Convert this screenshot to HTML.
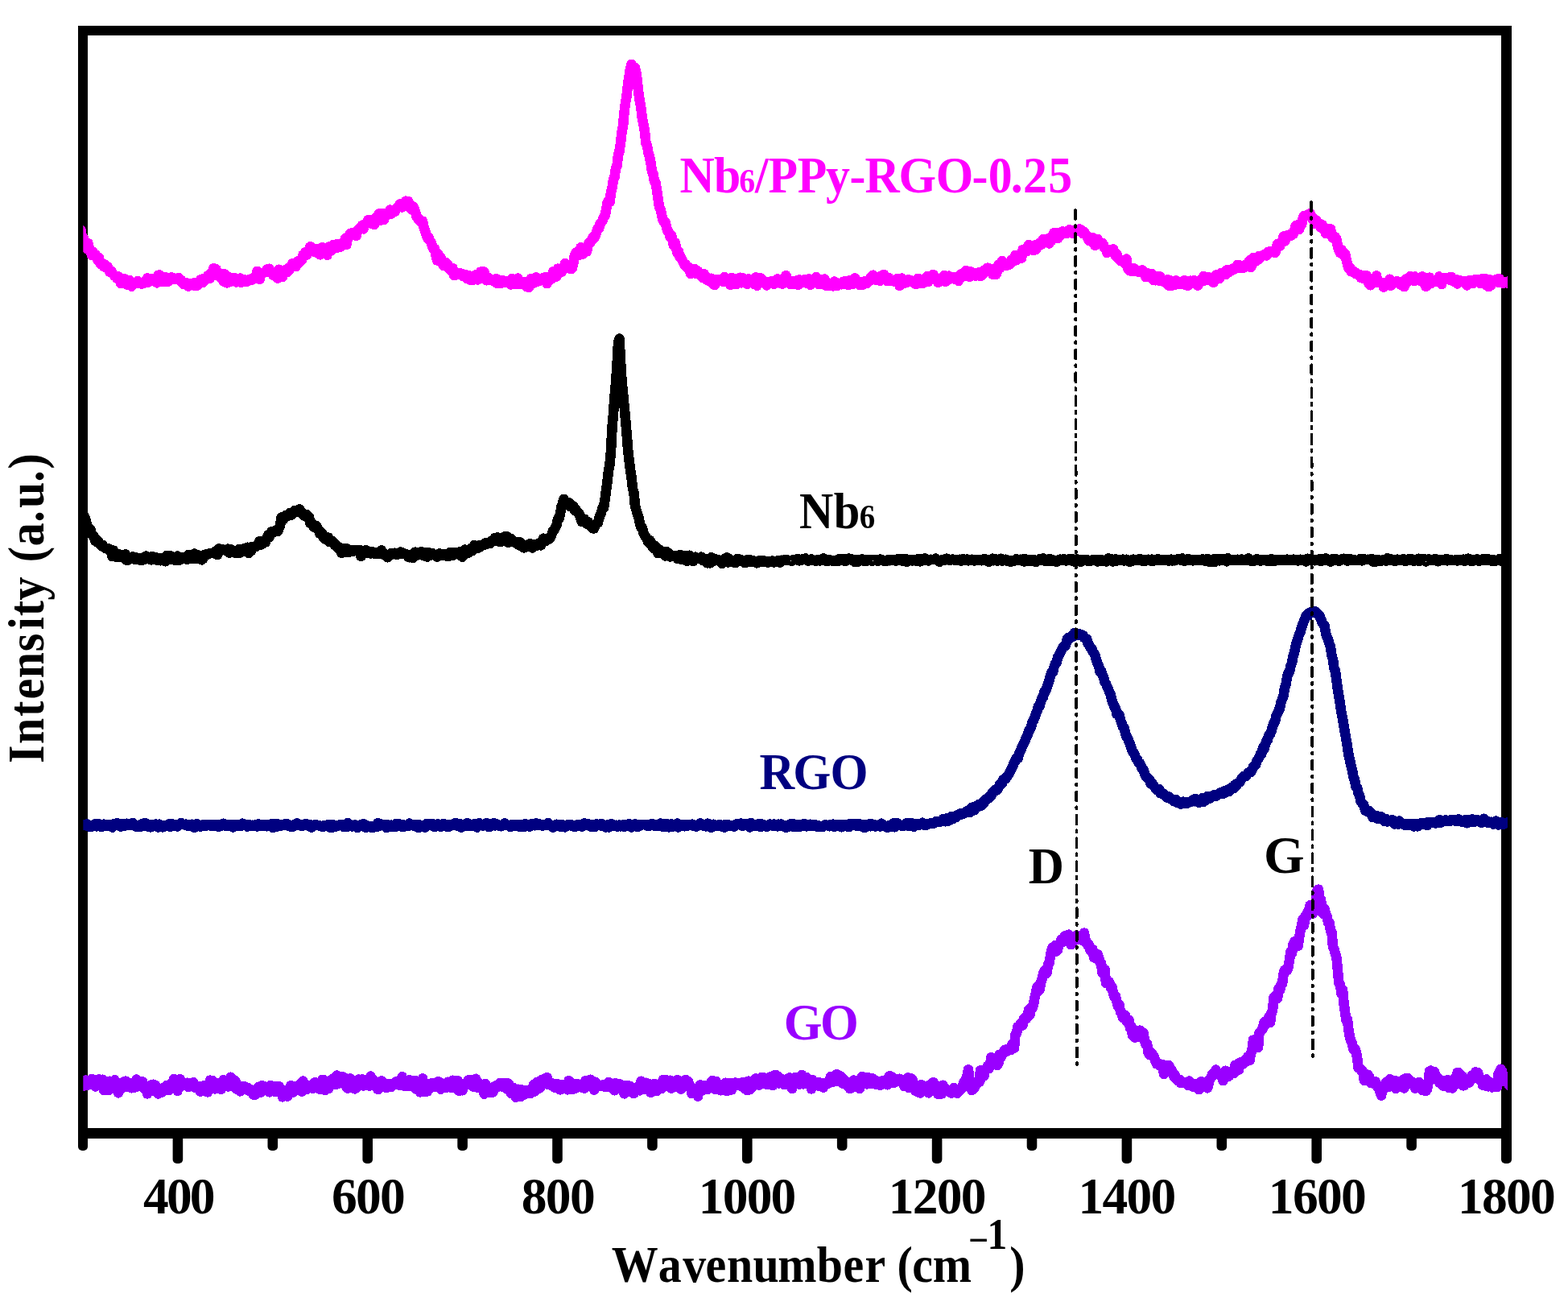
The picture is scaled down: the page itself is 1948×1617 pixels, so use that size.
<!DOCTYPE html>
<html lang="en">
<head>
<meta charset="utf-8">
<title>Raman spectra</title>
<style>
html,body{margin:0;padding:0;background:#fff;}
body{width:1948px;height:1617px;overflow:hidden;}
svg{display:block;}
text{font-family:"Liberation Serif", serif;font-weight:bold;}
</style>
</head>
<body>
<svg width="1948" height="1617" viewBox="0 0 1948 1617">
<rect width="1948" height="1617" fill="#ffffff"/>
<g fill="#000">
<rect x="97" y="32" width="1781" height="12"/>
<rect x="97" y="1401" width="1781" height="13"/>
<rect x="97" y="32" width="12" height="1382"/>
<rect x="1865" y="32" width="13" height="1382"/>
<rect x="97.0" y="1405" width="12.0" height="23.9" rx="5" ry="5"/>
<rect x="214.6" y="1405" width="12.6" height="39.9" rx="5" ry="5"/>
<rect x="332.5" y="1405" width="12.6" height="23.9" rx="5" ry="5"/>
<rect x="450.4" y="1405" width="12.6" height="39.9" rx="5" ry="5"/>
<rect x="568.3" y="1405" width="12.6" height="23.9" rx="5" ry="5"/>
<rect x="686.2" y="1405" width="12.6" height="39.9" rx="5" ry="5"/>
<rect x="804.1" y="1405" width="12.6" height="23.9" rx="5" ry="5"/>
<rect x="922.0" y="1405" width="12.6" height="39.9" rx="5" ry="5"/>
<rect x="1039.9" y="1405" width="12.6" height="23.9" rx="5" ry="5"/>
<rect x="1157.8" y="1405" width="12.6" height="39.9" rx="5" ry="5"/>
<rect x="1275.7" y="1405" width="12.6" height="23.9" rx="5" ry="5"/>
<rect x="1393.6" y="1405" width="12.6" height="39.9" rx="5" ry="5"/>
<rect x="1511.5" y="1405" width="12.6" height="23.9" rx="5" ry="5"/>
<rect x="1629.4" y="1405" width="12.6" height="39.9" rx="5" ry="5"/>
<rect x="1747.3" y="1405" width="12.6" height="23.9" rx="5" ry="5"/>
<rect x="1865.0" y="1405" width="13.0" height="39.9" rx="5" ry="5"/>
</g>
<svg x="103.3" y="0" width="1769.7" height="1617" viewBox="103.3 0 1769.7 1617" overflow="hidden">
<g fill="none" stroke-width="12.6" stroke-linejoin="round" stroke-linecap="butt" shape-rendering="crispEdges">
<path d="M93.0 1348.9L94.5 1350.3L96.0 1344.3L97.5 1350.4L99.0 1345.9L100.5 1341.2L102.0 1344.4L103.5 1348.9L105.0 1347.5L106.5 1341.6L108.0 1348.0L109.5 1345.0L111.0 1346.7L112.5 1346.0L114.0 1340.1L115.5 1345.5L117.0 1341.6L118.5 1349.5L120.0 1346.0L121.5 1343.9L123.0 1340.4L124.5 1344.8L126.0 1345.6L127.5 1340.8L129.0 1354.2L130.5 1347.8L132.0 1353.1L133.5 1342.9L135.0 1353.8L136.5 1342.8L138.0 1346.0L139.5 1350.9L141.0 1349.5L142.5 1341.4L144.0 1345.6L145.5 1352.8L147.0 1357.3L148.5 1352.6L150.0 1347.8L151.5 1351.6L153.0 1344.0L154.5 1350.0L156.0 1342.7L157.5 1347.5L159.0 1346.8L160.5 1350.1L162.0 1345.7L163.5 1351.2L165.0 1346.1L166.5 1350.3L168.0 1350.4L169.5 1340.6L171.0 1348.0L172.5 1348.3L174.0 1345.4L175.5 1349.3L177.0 1343.4L178.5 1351.3L180.0 1351.3L181.5 1350.8L183.0 1358.3L184.5 1351.4L186.0 1350.4L187.5 1347.5L189.0 1351.5L190.5 1346.8L192.0 1355.4L193.5 1348.2L195.0 1351.4L196.5 1358.4L198.0 1355.4L199.5 1352.0L201.0 1356.5L202.5 1351.1L204.0 1354.4L205.5 1351.6L207.0 1348.0L208.5 1352.6L210.0 1354.0L211.5 1348.7L213.0 1345.3L214.5 1347.0L216.0 1340.1L217.5 1345.7L219.0 1343.4L220.5 1354.7L222.0 1344.3L223.5 1340.1L225.0 1348.8L226.5 1344.3L228.0 1345.4L229.5 1346.3L231.0 1346.7L232.5 1344.8L234.0 1350.2L235.5 1348.8L237.0 1345.3L238.5 1346.8L240.0 1344.2L241.5 1349.2L243.0 1351.3L244.5 1351.3L246.0 1351.4L247.5 1348.9L249.0 1355.7L250.5 1349.1L252.0 1349.7L253.5 1348.1L255.0 1349.4L256.5 1347.9L258.0 1356.3L259.5 1350.0L261.0 1341.7L262.5 1346.2L264.0 1342.2L265.5 1350.7L267.0 1352.3L268.5 1345.1L270.0 1348.9L271.5 1345.7L273.0 1347.9L274.5 1352.8L276.0 1344.8L277.5 1341.3L279.0 1348.6L280.5 1347.7L282.0 1348.2L283.5 1349.4L285.0 1342.8L286.5 1337.8L288.0 1349.1L289.5 1343.4L291.0 1341.3L292.5 1342.7L294.0 1352.6L295.5 1350.3L297.0 1352.0L298.5 1355.3L300.0 1350.7L301.5 1349.2L303.0 1350.4L304.5 1349.7L306.0 1352.9L307.5 1350.8L309.0 1354.6L310.5 1352.8L312.0 1354.5L313.5 1357.3L315.0 1359.6L316.5 1359.6L318.0 1353.6L319.5 1353.4L321.0 1350.1L322.5 1355.3L324.0 1356.7L325.5 1348.1L327.0 1353.0L328.5 1349.4L330.0 1350.6L331.5 1352.5L333.0 1350.8L334.5 1356.3L336.0 1347.8L337.5 1351.4L339.0 1354.2L340.5 1350.9L342.0 1356.1L343.5 1348.9L345.0 1354.7L346.5 1348.9L348.0 1353.7L349.5 1356.1L351.0 1362.4L352.5 1358.0L354.0 1359.9L355.5 1353.9L357.0 1361.6L358.5 1352.5L360.0 1352.3L361.5 1348.1L363.0 1353.5L364.5 1356.4L366.0 1349.6L367.5 1350.3L369.0 1349.7L370.5 1349.9L372.0 1348.6L373.5 1345.4L375.0 1355.5L376.5 1342.5L378.0 1346.2L379.5 1350.8L381.0 1353.1L382.5 1348.3L384.0 1347.8L385.5 1348.8L387.0 1347.5L388.5 1351.6L390.0 1346.2L391.5 1344.1L393.0 1345.8L394.5 1347.7L396.0 1351.8L397.5 1353.0L399.0 1345.2L400.5 1340.9L402.0 1340.9L403.5 1353.9L405.0 1344.0L406.5 1346.9L408.0 1352.2L409.5 1342.0L411.0 1343.5L412.5 1341.7L414.0 1339.4L415.5 1346.3L417.0 1347.0L418.5 1335.5L420.0 1346.0L421.5 1341.1L423.0 1342.3L424.5 1342.6L426.0 1337.2L427.5 1341.3L429.0 1339.0L430.5 1350.4L432.0 1351.7L433.5 1344.0L435.0 1339.5L436.5 1348.7L438.0 1343.9L439.5 1351.5L441.0 1352.3L442.5 1351.1L444.0 1343.1L445.5 1340.6L447.0 1341.8L448.5 1343.8L450.0 1340.5L451.5 1348.4L453.0 1346.2L454.5 1343.5L456.0 1342.0L457.5 1345.8L459.0 1348.7L460.5 1336.5L462.0 1345.1L463.5 1343.4L465.0 1342.0L466.5 1343.9L468.0 1346.1L469.5 1353.0L471.0 1346.5L472.5 1345.0L474.0 1342.3L475.5 1350.2L477.0 1344.8L478.5 1347.5L480.0 1350.9L481.5 1348.0L483.0 1345.9L484.5 1346.2L486.0 1349.8L487.5 1345.9L489.0 1346.4L490.5 1346.7L492.0 1343.3L493.5 1345.4L495.0 1342.7L496.5 1347.6L498.0 1345.5L499.5 1337.3L501.0 1343.3L502.5 1348.6L504.0 1343.9L505.5 1343.4L507.0 1349.0L508.5 1341.4L510.0 1346.1L511.5 1348.3L513.0 1349.6L514.5 1342.7L516.0 1342.2L517.5 1352.9L519.0 1344.5L520.5 1347.4L522.0 1356.4L523.5 1346.4L525.0 1339.6L526.5 1356.1L528.0 1351.3L529.5 1348.6L531.0 1355.3L532.5 1346.4L534.0 1352.0L535.5 1346.3L537.0 1344.9L538.5 1348.1L540.0 1348.8L541.5 1350.1L543.0 1349.5L544.5 1343.2L546.0 1344.8L547.5 1352.6L549.0 1347.7L550.5 1345.8L552.0 1350.7L553.5 1351.0L555.0 1350.7L556.5 1343.8L558.0 1344.5L559.5 1349.0L561.0 1350.8L562.5 1341.8L564.0 1344.7L565.5 1345.7L567.0 1350.4L568.5 1342.3L570.0 1354.7L571.5 1346.5L573.0 1348.4L574.5 1354.3L576.0 1348.2L577.5 1348.6L579.0 1344.9L580.5 1347.2L582.0 1341.3L583.5 1344.9L585.0 1345.2L586.5 1341.2L588.0 1349.5L589.5 1348.0L591.0 1339.8L592.5 1350.5L594.0 1344.6L595.5 1351.0L597.0 1346.3L598.5 1348.7L600.0 1352.2L601.5 1358.6L603.0 1346.1L604.5 1351.2L606.0 1351.8L607.5 1357.1L609.0 1351.5L610.5 1353.5L612.0 1356.5L613.5 1353.9L615.0 1348.9L616.5 1348.3L618.0 1348.4L619.5 1349.5L621.0 1345.2L622.5 1347.7L624.0 1349.6L625.5 1345.2L627.0 1345.3L628.5 1349.3L630.0 1352.4L631.5 1345.4L633.0 1347.9L634.5 1357.6L636.0 1353.8L637.5 1350.8L639.0 1356.5L640.5 1362.6L642.0 1354.1L643.5 1352.7L645.0 1355.2L646.5 1362.1L648.0 1353.4L649.5 1357.8L651.0 1359.5L652.5 1357.9L654.0 1354.1L655.5 1357.8L657.0 1355.8L658.5 1358.1L660.0 1356.3L661.5 1354.7L663.0 1347.0L664.5 1355.3L666.0 1351.8L667.5 1343.7L669.0 1350.8L670.5 1351.4L672.0 1349.2L673.5 1340.7L675.0 1345.6L676.5 1344.1L678.0 1345.9L679.5 1338.1L681.0 1346.9L682.5 1347.2L684.0 1347.4L685.5 1345.5L687.0 1345.8L688.5 1350.4L690.0 1348.8L691.5 1345.9L693.0 1349.1L694.5 1351.0L696.0 1353.4L697.5 1351.1L699.0 1346.8L700.5 1348.0L702.0 1350.6L703.5 1350.7L705.0 1353.3L706.5 1342.2L708.0 1346.4L709.5 1344.6L711.0 1352.9L712.5 1351.6L714.0 1349.8L715.5 1351.5L717.0 1346.1L718.5 1350.1L720.0 1348.3L721.5 1348.3L723.0 1347.3L724.5 1351.3L726.0 1351.5L727.5 1342.0L729.0 1345.3L730.5 1347.5L732.0 1349.2L733.5 1340.8L735.0 1343.3L736.5 1345.5L738.0 1353.5L739.5 1343.8L741.0 1345.8L742.5 1347.3L744.0 1347.3L745.5 1348.4L747.0 1347.9L748.5 1347.5L750.0 1349.4L751.5 1349.3L753.0 1349.7L754.5 1349.8L756.0 1343.9L757.5 1349.0L759.0 1348.9L760.5 1351.3L762.0 1350.9L763.5 1354.2L765.0 1345.3L766.5 1347.8L768.0 1349.1L769.5 1346.1L771.0 1347.8L772.5 1347.8L774.0 1347.8L775.5 1358.3L777.0 1350.0L778.5 1356.3L780.0 1347.9L781.5 1352.5L783.0 1349.1L784.5 1352.5L786.0 1357.2L787.5 1358.0L789.0 1353.4L790.5 1351.8L792.0 1349.8L793.5 1350.9L795.0 1354.3L796.5 1342.8L798.0 1347.4L799.5 1344.9L801.0 1352.8L802.5 1344.8L804.0 1353.0L805.5 1346.0L807.0 1346.8L808.5 1356.9L810.0 1355.5L811.5 1348.8L813.0 1346.1L814.5 1349.5L816.0 1355.2L817.5 1351.4L819.0 1346.5L820.5 1350.5L822.0 1352.2L823.5 1341.3L825.0 1343.7L826.5 1340.9L828.0 1349.1L829.5 1346.4L831.0 1344.5L832.5 1341.8L834.0 1351.6L835.5 1348.9L837.0 1350.0L838.5 1348.2L840.0 1349.8L841.5 1341.2L843.0 1344.0L844.5 1347.7L846.0 1352.7L847.5 1346.5L849.0 1344.4L850.5 1341.7L852.0 1341.0L853.5 1343.8L855.0 1343.1L856.5 1348.1L858.0 1349.1L859.5 1358.1L861.0 1351.7L862.5 1357.8L864.0 1353.4L865.5 1357.7L867.0 1361.6L868.5 1350.3L870.0 1347.3L871.5 1354.8L873.0 1350.1L874.5 1348.1L876.0 1350.1L877.5 1349.5L879.0 1353.1L880.5 1350.0L882.0 1346.3L883.5 1344.3L885.0 1342.0L886.5 1344.4L888.0 1352.6L889.5 1343.0L891.0 1348.6L892.5 1353.1L894.0 1350.7L895.5 1354.2L897.0 1351.1L898.5 1354.1L900.0 1345.9L901.5 1344.8L903.0 1355.2L904.5 1349.0L906.0 1347.9L907.5 1345.3L909.0 1353.3L910.5 1349.0L912.0 1348.9L913.5 1344.5L915.0 1347.1L916.5 1345.3L918.0 1346.7L919.5 1348.5L921.0 1345.5L922.5 1344.4L924.0 1350.8L925.5 1344.2L927.0 1353.4L928.5 1354.1L930.0 1342.6L931.5 1353.2L933.0 1343.3L934.5 1350.6L936.0 1342.7L937.5 1347.0L939.0 1339.4L940.5 1345.0L942.0 1342.2L943.5 1347.6L945.0 1344.4L946.5 1338.0L948.0 1342.5L949.5 1338.6L951.0 1341.7L952.5 1346.7L954.0 1346.7L955.5 1341.3L957.0 1337.5L958.5 1340.7L960.0 1348.1L961.5 1339.7L963.0 1334.8L964.5 1335.5L966.0 1336.6L967.5 1345.5L969.0 1340.5L970.5 1339.4L972.0 1343.9L973.5 1346.6L975.0 1342.7L976.5 1340.6L978.0 1344.8L979.5 1347.5L981.0 1338.5L982.5 1339.7L984.0 1352.1L985.5 1345.7L987.0 1345.0L988.5 1337.9L990.0 1339.0L991.5 1341.3L993.0 1346.6L994.5 1341.7L996.0 1334.8L997.5 1346.3L999.0 1346.1L1000.5 1344.3L1002.0 1337.8L1003.5 1340.4L1005.0 1342.7L1006.5 1345.1L1008.0 1352.3L1009.5 1341.3L1011.0 1344.6L1012.5 1348.2L1014.0 1347.0L1015.5 1348.1L1017.0 1343.8L1018.5 1349.0L1020.0 1347.0L1021.5 1348.3L1023.0 1350.5L1024.5 1345.4L1026.0 1345.3L1027.5 1346.2L1029.0 1342.9L1030.5 1344.7L1032.0 1336.8L1033.5 1339.3L1035.0 1343.6L1036.5 1341.6L1038.0 1343.1L1039.5 1334.1L1041.0 1336.3L1042.5 1337.1L1044.0 1336.4L1045.5 1337.8L1047.0 1345.7L1048.5 1340.5L1050.0 1342.8L1051.5 1347.7L1053.0 1348.3L1054.5 1346.7L1056.0 1352.2L1057.5 1347.9L1059.0 1344.6L1060.5 1341.6L1062.0 1349.6L1063.5 1342.4L1065.0 1345.9L1066.5 1342.2L1068.0 1351.9L1069.5 1346.5L1071.0 1336.9L1072.5 1344.4L1074.0 1338.1L1075.5 1341.2L1077.0 1346.3L1078.5 1338.4L1080.0 1344.5L1081.5 1343.0L1083.0 1346.1L1084.5 1339.6L1086.0 1345.6L1087.5 1341.9L1089.0 1347.1L1090.5 1343.4L1092.0 1345.7L1093.5 1348.0L1095.0 1346.8L1096.5 1342.2L1098.0 1344.7L1099.5 1341.7L1101.0 1343.0L1102.5 1347.2L1104.0 1337.6L1105.5 1336.1L1107.0 1342.0L1108.5 1337.8L1110.0 1344.9L1111.5 1344.1L1113.0 1343.8L1114.5 1341.9L1116.0 1340.8L1117.5 1339.8L1119.0 1341.6L1120.5 1344.1L1122.0 1341.2L1123.5 1349.1L1125.0 1348.1L1126.5 1341.2L1128.0 1338.3L1129.5 1351.2L1131.0 1342.9L1132.5 1339.7L1134.0 1342.2L1135.5 1349.6L1137.0 1354.4L1138.5 1353.3L1140.0 1355.6L1141.5 1356.9L1143.0 1357.4L1144.5 1347.0L1146.0 1350.0L1147.5 1348.6L1149.0 1351.3L1150.5 1349.8L1152.0 1351.7L1153.5 1357.3L1155.0 1347.3L1156.5 1352.4L1158.0 1345.6L1159.5 1344.0L1161.0 1353.4L1162.5 1350.3L1164.0 1352.4L1165.5 1358.8L1167.0 1349.6L1168.5 1354.5L1170.0 1358.4L1171.5 1347.8L1173.0 1351.4L1174.5 1352.7L1176.0 1353.1L1177.5 1353.4L1179.0 1355.8L1180.5 1355.2L1182.0 1357.6L1183.5 1356.2L1185.0 1351.0L1186.5 1354.4L1188.0 1353.2L1189.5 1357.6L1191.0 1354.8L1192.5 1354.5L1194.0 1351.2L1195.5 1351.0L1197.0 1344.5L1198.5 1345.6L1200.0 1340.0L1201.5 1336.2L1203.0 1328.4L1204.5 1343.9L1206.0 1348.8L1207.5 1354.0L1209.0 1352.4L1210.5 1351.3L1212.0 1344.6L1213.5 1346.5L1215.0 1343.4L1216.5 1344.0L1218.0 1329.3L1219.5 1338.6L1221.0 1334.9L1222.5 1336.3L1224.0 1328.9L1225.5 1326.8L1227.0 1323.8L1228.5 1327.3L1230.0 1323.2L1231.5 1313.1L1233.0 1314.4L1234.5 1316.1L1236.0 1314.1L1237.5 1319.6L1239.0 1323.0L1240.5 1320.6L1242.0 1309.6L1243.5 1313.0L1245.0 1308.1L1246.5 1308.0L1248.0 1304.1L1249.5 1306.5L1251.0 1302.9L1252.5 1304.6L1254.0 1303.9L1255.5 1304.0L1257.0 1298.0L1258.5 1295.7L1260.0 1301.7L1261.5 1284.6L1263.0 1283.4L1264.5 1275.0L1266.0 1275.8L1267.5 1271.8L1269.0 1269.8L1270.5 1273.4L1272.0 1265.4L1273.5 1264.0L1275.0 1265.3L1276.5 1263.4L1278.0 1254.4L1279.5 1260.5L1281.0 1251.5L1282.5 1252.2L1284.0 1247.5L1285.5 1239.3L1287.0 1233.4L1288.5 1225.4L1290.0 1230.8L1291.5 1229.2L1293.0 1220.4L1294.5 1216.4L1296.0 1209.6L1297.5 1206.2L1299.0 1206.6L1300.5 1208.6L1302.0 1198.1L1303.5 1195.7L1305.0 1187.2L1306.5 1179.6L1308.0 1176.4L1309.5 1177.7L1311.0 1174.2L1312.5 1181.5L1314.0 1179.7L1315.5 1173.1L1317.0 1171.8L1318.5 1167.0L1320.0 1170.1L1321.5 1169.4L1323.0 1162.4L1324.5 1164.5L1326.0 1167.9L1327.5 1160.7L1329.0 1168.2L1330.5 1173.0L1332.0 1171.8L1333.5 1163.8L1335.0 1162.8L1336.5 1164.4L1338.0 1163.2L1339.5 1166.4L1341.0 1162.1L1342.5 1162.7L1344.0 1162.9L1345.5 1168.2L1347.0 1158.7L1348.5 1169.7L1350.0 1169.8L1351.5 1173.9L1353.0 1173.6L1354.5 1180.3L1356.0 1180.9L1357.5 1179.1L1359.0 1189.3L1360.5 1183.9L1362.0 1189.6L1363.5 1185.1L1365.0 1189.1L1366.5 1195.0L1368.0 1196.0L1369.5 1208.5L1371.0 1209.2L1372.5 1204.1L1374.0 1221.2L1375.5 1217.8L1377.0 1218.8L1378.5 1220.4L1380.0 1226.9L1381.5 1225.5L1383.0 1233.5L1384.5 1237.8L1386.0 1237.1L1387.5 1244.4L1389.0 1250.0L1390.5 1248.1L1392.0 1257.0L1393.5 1257.4L1395.0 1264.2L1396.5 1262.2L1398.0 1260.9L1399.5 1268.4L1401.0 1269.7L1402.5 1266.6L1404.0 1276.6L1405.5 1274.6L1407.0 1286.0L1408.5 1284.5L1410.0 1288.5L1411.5 1286.6L1413.0 1284.5L1414.5 1287.8L1416.0 1279.6L1417.5 1288.2L1419.0 1287.3L1420.5 1282.9L1422.0 1292.1L1423.5 1297.5L1425.0 1296.0L1426.5 1306.6L1428.0 1310.0L1429.5 1306.7L1431.0 1308.4L1432.5 1311.9L1434.0 1312.5L1435.5 1318.4L1437.0 1321.3L1438.5 1321.2L1440.0 1322.8L1441.5 1321.6L1443.0 1322.8L1444.5 1322.2L1446.0 1333.9L1447.5 1329.9L1449.0 1329.5L1450.5 1325.6L1452.0 1323.1L1453.5 1326.7L1455.0 1328.6L1456.5 1330.8L1458.0 1336.4L1459.5 1334.4L1461.0 1340.1L1462.5 1340.7L1464.0 1342.6L1465.5 1340.7L1467.0 1345.2L1468.5 1343.9L1470.0 1345.2L1471.5 1344.6L1473.0 1344.8L1474.5 1346.1L1476.0 1347.8L1477.5 1342.6L1479.0 1344.1L1480.5 1345.4L1482.0 1349.7L1483.5 1345.9L1485.0 1348.6L1486.5 1350.1L1488.0 1347.1L1489.5 1353.2L1491.0 1344.1L1492.5 1343.1L1494.0 1344.2L1495.5 1345.8L1497.0 1347.0L1498.5 1348.6L1500.0 1351.3L1501.5 1346.4L1503.0 1340.2L1504.5 1338.4L1506.0 1334.2L1507.5 1335.2L1509.0 1332.4L1510.5 1328.7L1512.0 1332.9L1513.5 1332.2L1515.0 1335.0L1516.5 1334.6L1518.0 1332.6L1519.5 1342.2L1521.0 1333.0L1522.5 1329.8L1524.0 1333.6L1525.5 1333.3L1527.0 1336.4L1528.5 1331.6L1530.0 1333.0L1531.5 1332.9L1533.0 1333.1L1534.5 1322.9L1536.0 1328.4L1537.5 1321.4L1539.0 1328.6L1540.5 1320.1L1542.0 1318.9L1543.5 1321.9L1545.0 1318.4L1546.5 1316.8L1548.0 1318.8L1549.5 1313.3L1551.0 1311.9L1552.5 1317.0L1554.0 1308.1L1555.5 1303.8L1557.0 1291.6L1558.5 1294.4L1560.0 1292.7L1561.5 1294.7L1563.0 1301.0L1564.5 1282.3L1566.0 1281.3L1567.5 1279.3L1569.0 1277.3L1570.5 1269.4L1572.0 1272.6L1573.5 1267.7L1575.0 1269.1L1576.5 1262.5L1578.0 1269.9L1579.5 1257.8L1581.0 1255.2L1582.5 1238.9L1584.0 1238.9L1585.5 1236.1L1587.0 1239.8L1588.5 1227.9L1590.0 1230.0L1591.5 1222.8L1593.0 1221.9L1594.5 1209.9L1596.0 1204.7L1597.5 1203.8L1599.0 1205.4L1600.5 1200.9L1602.0 1192.5L1603.5 1181.8L1605.0 1183.9L1606.5 1173.2L1608.0 1169.5L1609.5 1170.0L1611.0 1169.0L1612.5 1174.9L1614.0 1165.1L1615.5 1156.2L1617.0 1149.5L1618.5 1141.6L1620.0 1149.2L1621.5 1137.9L1623.0 1138.9L1624.5 1132.5L1626.0 1131.4L1627.5 1124.3L1629.0 1130.4L1630.5 1135.1L1632.0 1130.2L1633.5 1121.6L1635.0 1119.8L1636.5 1106.1L1638.0 1104.6L1639.5 1118.5L1641.0 1117.1L1642.5 1133.1L1644.0 1135.1L1645.5 1128.8L1647.0 1135.0L1648.5 1138.2L1650.0 1145.7L1651.5 1146.2L1653.0 1155.6L1654.5 1157.9L1656.0 1176.1L1657.5 1179.3L1659.0 1184.3L1660.5 1189.9L1662.0 1205.9L1663.5 1221.7L1665.0 1222.9L1666.5 1234.0L1668.0 1229.2L1669.5 1245.8L1671.0 1256.6L1672.5 1267.6L1674.0 1265.8L1675.5 1279.7L1677.0 1288.6L1678.5 1292.8L1680.0 1296.3L1681.5 1303.2L1683.0 1302.1L1684.5 1306.0L1686.0 1312.6L1687.5 1325.9L1689.0 1326.1L1690.5 1328.7L1692.0 1329.1L1693.5 1332.8L1695.0 1342.2L1696.5 1335.4L1698.0 1334.6L1699.5 1334.9L1701.0 1337.4L1702.5 1344.6L1704.0 1343.2L1705.5 1344.0L1707.0 1346.2L1708.5 1343.0L1710.0 1346.6L1711.5 1350.3L1713.0 1352.0L1714.5 1356.4L1716.0 1360.6L1717.5 1352.0L1719.0 1353.0L1720.5 1350.5L1722.0 1344.1L1723.5 1348.2L1725.0 1350.0L1726.5 1340.4L1728.0 1348.3L1729.5 1348.5L1731.0 1348.4L1732.5 1341.9L1734.0 1352.0L1735.5 1348.2L1737.0 1346.1L1738.5 1343.7L1740.0 1350.2L1741.5 1346.8L1743.0 1341.1L1744.5 1351.4L1746.0 1339.4L1747.5 1345.5L1749.0 1338.8L1750.5 1342.2L1752.0 1346.1L1753.5 1343.2L1755.0 1346.8L1756.5 1345.4L1758.0 1351.6L1759.5 1349.0L1761.0 1348.4L1762.5 1344.0L1764.0 1345.3L1765.5 1347.9L1767.0 1353.8L1768.5 1353.2L1770.0 1349.7L1771.5 1355.0L1773.0 1352.7L1774.5 1344.5L1776.0 1330.4L1777.5 1329.5L1779.0 1333.1L1780.5 1339.9L1782.0 1331.1L1783.5 1337.1L1785.0 1339.1L1786.5 1338.9L1788.0 1344.6L1789.5 1341.0L1791.0 1343.3L1792.5 1348.2L1794.0 1348.7L1795.5 1342.7L1797.0 1343.4L1798.5 1341.0L1800.0 1350.9L1801.5 1347.9L1803.0 1348.8L1804.5 1351.5L1806.0 1347.5L1807.5 1339.2L1809.0 1346.1L1810.5 1332.2L1812.0 1332.3L1813.5 1343.6L1815.0 1340.3L1816.5 1336.4L1818.0 1348.4L1819.5 1347.8L1821.0 1342.9L1822.5 1342.6L1824.0 1342.9L1825.5 1344.5L1827.0 1340.1L1828.5 1335.7L1830.0 1338.8L1831.5 1336.4L1833.0 1331.4L1834.5 1335.0L1836.0 1332.1L1837.5 1337.2L1839.0 1342.1L1840.5 1340.2L1842.0 1347.6L1843.5 1341.6L1845.0 1342.4L1846.5 1340.4L1848.0 1349.2L1849.5 1349.3L1851.0 1343.7L1852.5 1346.4L1854.0 1350.4L1855.5 1345.2L1857.0 1347.5L1858.5 1345.7L1860.0 1349.8L1861.5 1333.3L1863.0 1335.3L1864.5 1327.8L1866.0 1330.5L1867.5 1343.2L1869.0 1341.1L1870.5 1341.7L1872.0 1339.8L1873.5 1340.1L1875.0 1347.8L1876.5 1336.0L1878.0 1344.9L1879.5 1344.2L1881.0 1336.5L1882.5 1340.9L1884.0 1337.3" stroke="#9900ff"/>
<path d="M93.0 1027.3L94.5 1025.6L96.0 1025.1L97.5 1022.6L99.0 1024.6L100.5 1024.5L102.0 1024.9L103.5 1024.2L105.0 1024.9L106.5 1024.4L108.0 1023.3L109.5 1026.2L111.0 1026.1L112.5 1027.2L114.0 1025.1L115.5 1024.5L117.0 1024.3L118.5 1023.0L120.0 1026.3L121.5 1023.6L123.0 1023.5L124.5 1024.7L126.0 1026.9L127.5 1025.3L129.0 1023.7L130.5 1024.1L132.0 1025.8L133.5 1024.8L135.0 1024.0L136.5 1024.7L138.0 1026.0L139.5 1027.6L141.0 1023.4L142.5 1024.2L144.0 1024.0L145.5 1022.1L147.0 1023.8L148.5 1023.7L150.0 1026.5L151.5 1024.8L153.0 1022.9L154.5 1025.8L156.0 1024.5L157.5 1022.7L159.0 1024.2L160.5 1024.2L162.0 1023.9L163.5 1025.0L165.0 1022.1L166.5 1024.7L168.0 1026.3L169.5 1026.1L171.0 1026.4L172.5 1026.5L174.0 1026.9L175.5 1023.5L177.0 1026.1L178.5 1022.6L180.0 1024.2L181.5 1022.5L183.0 1026.4L184.5 1026.7L186.0 1024.7L187.5 1027.3L189.0 1024.1L190.5 1025.2L192.0 1025.2L193.5 1023.6L195.0 1025.6L196.5 1027.5L198.0 1023.7L199.5 1026.2L201.0 1024.8L202.5 1027.3L204.0 1025.6L205.5 1025.9L207.0 1025.8L208.5 1025.3L210.0 1023.2L211.5 1026.8L213.0 1023.2L214.5 1025.3L216.0 1025.8L217.5 1023.9L219.0 1025.2L220.5 1026.5L222.0 1025.0L223.5 1023.8L225.0 1022.1L226.5 1023.7L228.0 1024.2L229.5 1024.3L231.0 1023.8L232.5 1025.5L234.0 1024.3L235.5 1024.9L237.0 1025.9L238.5 1023.9L240.0 1024.6L241.5 1027.8L243.0 1026.1L244.5 1023.3L246.0 1024.9L247.5 1025.7L249.0 1026.6L250.5 1025.2L252.0 1024.3L253.5 1024.1L255.0 1025.8L256.5 1025.4L258.0 1024.3L259.5 1024.8L261.0 1024.5L262.5 1025.9L264.0 1024.1L265.5 1025.6L267.0 1026.1L268.5 1025.6L270.0 1023.9L271.5 1026.7L273.0 1024.1L274.5 1025.6L276.0 1024.0L277.5 1022.7L279.0 1025.3L280.5 1025.4L282.0 1024.9L283.5 1025.4L285.0 1024.2L286.5 1024.0L288.0 1024.8L289.5 1027.5L291.0 1026.1L292.5 1024.3L294.0 1025.7L295.5 1024.4L297.0 1024.4L298.5 1026.1L300.0 1024.3L301.5 1022.8L303.0 1023.8L304.5 1025.1L306.0 1025.2L307.5 1026.6L309.0 1024.1L310.5 1026.0L312.0 1025.6L313.5 1024.8L315.0 1026.1L316.5 1025.6L318.0 1023.9L319.5 1026.4L321.0 1023.4L322.5 1025.1L324.0 1025.0L325.5 1025.6L327.0 1024.1L328.5 1025.0L330.0 1024.8L331.5 1026.3L333.0 1024.0L334.5 1025.1L336.0 1024.7L337.5 1023.3L339.0 1027.9L340.5 1024.9L342.0 1023.1L343.5 1026.8L345.0 1023.6L346.5 1025.5L348.0 1026.1L349.5 1024.2L351.0 1024.4L352.5 1024.3L354.0 1024.8L355.5 1022.9L357.0 1023.4L358.5 1024.8L360.0 1026.4L361.5 1025.8L363.0 1027.2L364.5 1025.9L366.0 1024.3L367.5 1024.8L369.0 1022.4L370.5 1023.8L372.0 1023.7L373.5 1025.4L375.0 1025.8L376.5 1024.3L378.0 1024.2L379.5 1023.0L381.0 1024.8L382.5 1025.3L384.0 1025.6L385.5 1024.0L387.0 1027.6L388.5 1026.6L390.0 1024.9L391.5 1024.3L393.0 1024.6L394.5 1025.2L396.0 1025.0L397.5 1025.6L399.0 1026.0L400.5 1026.8L402.0 1026.5L403.5 1024.9L405.0 1025.5L406.5 1024.5L408.0 1024.2L409.5 1027.5L411.0 1024.4L412.5 1027.6L414.0 1024.5L415.5 1025.3L417.0 1026.4L418.5 1025.0L420.0 1025.5L421.5 1024.7L423.0 1024.4L424.5 1024.8L426.0 1024.2L427.5 1027.1L429.0 1024.8L430.5 1027.2L432.0 1022.1L433.5 1025.0L435.0 1025.7L436.5 1024.6L438.0 1026.4L439.5 1025.8L441.0 1024.6L442.5 1025.6L444.0 1027.9L445.5 1025.3L447.0 1025.4L448.5 1024.4L450.0 1025.2L451.5 1023.3L453.0 1024.7L454.5 1027.9L456.0 1026.4L457.5 1025.8L459.0 1026.4L460.5 1027.4L462.0 1025.8L463.5 1027.7L465.0 1026.4L466.5 1025.2L468.0 1027.2L469.5 1022.1L471.0 1024.3L472.5 1025.3L474.0 1023.8L475.5 1024.8L477.0 1024.2L478.5 1024.1L480.0 1027.9L481.5 1025.8L483.0 1024.9L484.5 1026.7L486.0 1024.7L487.5 1026.2L489.0 1025.5L490.5 1027.1L492.0 1023.2L493.5 1026.0L495.0 1025.2L496.5 1023.5L498.0 1026.4L499.5 1023.9L501.0 1027.1L502.5 1025.7L504.0 1025.9L505.5 1025.1L507.0 1026.2L508.5 1022.6L510.0 1025.1L511.5 1024.2L513.0 1025.4L514.5 1024.9L516.0 1025.8L517.5 1023.9L519.0 1027.4L520.5 1027.9L522.0 1024.7L523.5 1025.0L525.0 1025.4L526.5 1026.6L528.0 1027.5L529.5 1023.4L531.0 1024.2L532.5 1023.6L534.0 1023.6L535.5 1022.9L537.0 1025.5L538.5 1023.5L540.0 1027.0L541.5 1026.2L543.0 1023.7L544.5 1023.7L546.0 1024.2L547.5 1026.8L549.0 1023.9L550.5 1023.1L552.0 1024.9L553.5 1025.5L555.0 1024.1L556.5 1027.1L558.0 1025.3L559.5 1025.6L561.0 1023.9L562.5 1024.9L564.0 1024.8L565.5 1022.1L567.0 1025.4L568.5 1022.7L570.0 1025.0L571.5 1023.1L573.0 1027.6L574.5 1025.4L576.0 1026.1L577.5 1026.2L579.0 1023.3L580.5 1022.1L582.0 1024.6L583.5 1026.2L585.0 1025.1L586.5 1026.0L588.0 1026.2L589.5 1023.1L591.0 1025.4L592.5 1027.6L594.0 1024.3L595.5 1022.4L597.0 1024.7L598.5 1024.4L600.0 1025.5L601.5 1023.8L603.0 1025.1L604.5 1022.1L606.0 1026.1L607.5 1027.1L609.0 1026.7L610.5 1023.0L612.0 1025.4L613.5 1022.1L615.0 1025.4L616.5 1024.9L618.0 1023.7L619.5 1025.4L621.0 1025.2L622.5 1026.2L624.0 1025.2L625.5 1025.3L627.0 1022.5L628.5 1023.5L630.0 1024.4L631.5 1025.4L633.0 1025.0L634.5 1027.0L636.0 1023.9L637.5 1024.7L639.0 1025.3L640.5 1024.7L642.0 1025.6L643.5 1024.3L645.0 1026.8L646.5 1024.6L648.0 1026.5L649.5 1025.0L651.0 1026.9L652.5 1023.2L654.0 1025.7L655.5 1024.4L657.0 1025.3L658.5 1026.6L660.0 1023.5L661.5 1023.3L663.0 1023.7L664.5 1025.3L666.0 1022.5L667.5 1025.1L669.0 1023.3L670.5 1023.5L672.0 1024.5L673.5 1025.5L675.0 1024.2L676.5 1024.4L678.0 1024.9L679.5 1024.6L681.0 1022.1L682.5 1024.4L684.0 1025.1L685.5 1026.4L687.0 1027.7L688.5 1025.9L690.0 1025.1L691.5 1023.7L693.0 1025.1L694.5 1026.0L696.0 1026.6L697.5 1023.9L699.0 1025.3L700.5 1026.1L702.0 1027.4L703.5 1025.3L705.0 1024.3L706.5 1024.1L708.0 1024.5L709.5 1024.2L711.0 1026.1L712.5 1026.4L714.0 1025.9L715.5 1026.5L717.0 1024.4L718.5 1025.5L720.0 1024.5L721.5 1025.1L723.0 1026.6L724.5 1025.0L726.0 1022.6L727.5 1024.7L729.0 1024.1L730.5 1023.0L732.0 1024.0L733.5 1026.2L735.0 1027.2L736.5 1024.4L738.0 1026.3L739.5 1026.5L741.0 1023.5L742.5 1024.9L744.0 1024.9L745.5 1025.2L747.0 1022.9L748.5 1024.5L750.0 1026.4L751.5 1026.6L753.0 1027.4L754.5 1024.6L756.0 1027.4L757.5 1025.9L759.0 1023.2L760.5 1026.0L762.0 1024.5L763.5 1025.7L765.0 1024.9L766.5 1026.6L768.0 1025.3L769.5 1024.6L771.0 1026.3L772.5 1025.3L774.0 1024.5L775.5 1026.7L777.0 1024.5L778.5 1024.2L780.0 1024.3L781.5 1023.1L783.0 1024.3L784.5 1027.4L786.0 1023.8L787.5 1025.0L789.0 1023.6L790.5 1024.2L792.0 1027.0L793.5 1026.2L795.0 1024.2L796.5 1025.0L798.0 1023.9L799.5 1024.0L801.0 1023.8L802.5 1023.8L804.0 1025.4L805.5 1025.8L807.0 1025.6L808.5 1024.8L810.0 1023.2L811.5 1024.9L813.0 1023.8L814.5 1026.1L816.0 1025.7L817.5 1026.0L819.0 1024.5L820.5 1022.6L822.0 1026.2L823.5 1026.6L825.0 1023.1L826.5 1025.2L828.0 1026.6L829.5 1023.6L831.0 1027.3L832.5 1024.5L834.0 1023.6L835.5 1026.8L837.0 1025.4L838.5 1024.2L840.0 1026.1L841.5 1022.5L843.0 1027.4L844.5 1023.9L846.0 1025.4L847.5 1024.5L849.0 1025.6L850.5 1026.2L852.0 1023.9L853.5 1026.0L855.0 1024.6L856.5 1024.1L858.0 1024.7L859.5 1023.7L861.0 1024.0L862.5 1026.2L864.0 1024.8L865.5 1026.5L867.0 1025.6L868.5 1023.7L870.0 1022.5L871.5 1024.1L873.0 1025.3L874.5 1025.0L876.0 1023.9L877.5 1026.3L879.0 1022.7L880.5 1023.4L882.0 1025.2L883.5 1027.9L885.0 1025.5L886.5 1023.7L888.0 1025.8L889.5 1025.9L891.0 1026.2L892.5 1024.5L894.0 1024.0L895.5 1025.2L897.0 1025.5L898.5 1027.1L900.0 1027.7L901.5 1024.0L903.0 1024.3L904.5 1024.9L906.0 1024.7L907.5 1025.6L909.0 1025.6L910.5 1025.3L912.0 1026.7L913.5 1024.8L915.0 1023.6L916.5 1023.0L918.0 1023.7L919.5 1023.6L921.0 1022.6L922.5 1025.9L924.0 1025.2L925.5 1024.5L927.0 1023.8L928.5 1022.9L930.0 1023.8L931.5 1027.4L933.0 1022.1L934.5 1025.2L936.0 1026.0L937.5 1025.2L939.0 1024.6L940.5 1026.0L942.0 1023.6L943.5 1025.7L945.0 1026.9L946.5 1023.6L948.0 1023.9L949.5 1025.2L951.0 1026.3L952.5 1026.7L954.0 1025.9L955.5 1024.1L957.0 1023.6L958.5 1025.3L960.0 1025.5L961.5 1023.6L963.0 1025.1L964.5 1025.4L966.0 1026.4L967.5 1023.7L969.0 1025.7L970.5 1023.5L972.0 1024.4L973.5 1024.9L975.0 1027.0L976.5 1027.9L978.0 1025.3L979.5 1025.6L981.0 1026.3L982.5 1023.2L984.0 1026.0L985.5 1023.4L987.0 1027.1L988.5 1026.9L990.0 1025.7L991.5 1024.0L993.0 1027.2L994.5 1025.3L996.0 1025.1L997.5 1025.8L999.0 1022.8L1000.5 1025.6L1002.0 1026.3L1003.5 1025.4L1005.0 1025.2L1006.5 1023.8L1008.0 1025.8L1009.5 1025.3L1011.0 1025.0L1012.5 1024.3L1014.0 1026.1L1015.5 1026.6L1017.0 1025.5L1018.5 1026.2L1020.0 1026.7L1021.5 1027.1L1023.0 1025.3L1024.5 1024.7L1026.0 1024.5L1027.5 1025.0L1029.0 1025.7L1030.5 1026.2L1032.0 1024.4L1033.5 1025.2L1035.0 1023.7L1036.5 1026.6L1038.0 1024.5L1039.5 1025.5L1041.0 1024.1L1042.5 1024.6L1044.0 1024.1L1045.5 1027.2L1047.0 1025.5L1048.5 1024.8L1050.0 1023.8L1051.5 1024.2L1053.0 1025.7L1054.5 1027.2L1056.0 1023.1L1057.5 1023.8L1059.0 1024.8L1060.5 1024.2L1062.0 1022.8L1063.5 1025.0L1065.0 1026.0L1066.5 1022.9L1068.0 1025.3L1069.5 1026.3L1071.0 1026.3L1072.5 1024.5L1074.0 1027.9L1075.5 1025.7L1077.0 1023.9L1078.5 1026.3L1080.0 1023.5L1081.5 1026.2L1083.0 1023.4L1084.5 1026.0L1086.0 1024.2L1087.5 1026.5L1089.0 1026.0L1090.5 1025.6L1092.0 1025.1L1093.5 1026.4L1095.0 1022.7L1096.5 1025.6L1098.0 1025.5L1099.5 1025.7L1101.0 1026.1L1102.5 1027.9L1104.0 1025.2L1105.5 1026.0L1107.0 1025.2L1108.5 1027.0L1110.0 1022.4L1111.5 1027.2L1113.0 1024.1L1114.5 1022.1L1116.0 1023.6L1117.5 1024.8L1119.0 1025.3L1120.5 1024.9L1122.0 1026.1L1123.5 1024.9L1125.0 1024.9L1126.5 1022.1L1128.0 1025.4L1129.5 1026.0L1131.0 1024.1L1132.5 1022.1L1134.0 1022.8L1135.5 1026.6L1137.0 1023.6L1138.5 1023.4L1140.0 1023.1L1141.5 1025.0L1143.0 1023.3L1144.5 1022.8L1146.0 1021.9L1147.5 1023.7L1149.0 1025.0L1150.5 1023.3L1152.0 1024.3L1153.5 1023.1L1155.0 1022.7L1156.5 1022.5L1158.0 1022.0L1159.5 1023.0L1161.0 1022.0L1162.5 1020.3L1164.0 1020.9L1165.5 1020.4L1167.0 1020.8L1168.5 1020.1L1170.0 1020.1L1171.5 1017.3L1173.0 1019.4L1174.5 1020.3L1176.0 1016.4L1177.5 1019.8L1179.0 1017.6L1180.5 1016.5L1182.0 1014.0L1183.5 1017.3L1185.0 1014.2L1186.5 1014.2L1188.0 1015.0L1189.5 1012.2L1191.0 1011.5L1192.5 1010.5L1194.0 1011.1L1195.5 1011.3L1197.0 1010.3L1198.5 1009.6L1200.0 1007.9L1201.5 1007.9L1203.0 1006.3L1204.5 1009.1L1206.0 1006.2L1207.5 1002.8L1209.0 1003.4L1210.5 1006.2L1212.0 1001.5L1213.5 1001.8L1215.0 1001.8L1216.5 998.8L1218.0 1000.6L1219.5 1000.3L1221.0 996.0L1222.5 997.5L1224.0 993.7L1225.5 992.2L1227.0 992.3L1228.5 990.8L1230.0 988.2L1231.5 988.6L1233.0 984.1L1234.5 983.3L1236.0 981.3L1237.5 982.0L1239.0 980.4L1240.5 978.6L1242.0 974.3L1243.5 974.4L1245.0 972.9L1246.5 968.2L1248.0 967.2L1249.5 967.0L1251.0 965.0L1252.5 962.4L1254.0 960.4L1255.5 957.4L1257.0 954.2L1258.5 950.9L1260.0 946.9L1261.5 944.7L1263.0 941.5L1264.5 941.9L1266.0 936.3L1267.5 933.0L1269.0 929.5L1270.5 926.4L1272.0 922.6L1273.5 920.2L1275.0 916.0L1276.5 913.5L1278.0 908.0L1279.5 905.7L1281.0 902.7L1282.5 896.5L1284.0 894.5L1285.5 891.0L1287.0 886.6L1288.5 882.8L1290.0 877.4L1291.5 877.6L1293.0 871.2L1294.5 867.0L1296.0 865.6L1297.5 858.5L1299.0 858.3L1300.5 853.7L1302.0 849.9L1303.5 845.0L1305.0 839.6L1306.5 834.7L1308.0 835.0L1309.5 828.5L1311.0 824.4L1312.5 823.0L1314.0 816.5L1315.5 813.8L1317.0 811.0L1318.5 808.5L1320.0 804.7L1321.5 802.7L1323.0 802.7L1324.5 799.6L1326.0 793.4L1327.5 791.8L1329.0 793.1L1330.5 791.2L1332.0 789.5L1333.5 790.3L1335.0 785.8L1336.5 789.1L1338.0 787.3L1339.5 787.6L1341.0 787.5L1342.5 788.9L1344.0 788.4L1345.5 789.1L1347.0 792.2L1348.5 793.2L1350.0 793.4L1351.5 798.8L1353.0 800.9L1354.5 803.8L1356.0 805.1L1357.5 808.8L1359.0 811.2L1360.5 814.0L1362.0 819.4L1363.5 823.8L1365.0 826.9L1366.5 834.0L1368.0 833.1L1369.5 837.6L1371.0 841.3L1372.5 847.4L1374.0 849.2L1375.5 853.0L1377.0 856.2L1378.5 860.2L1380.0 863.4L1381.5 870.3L1383.0 873.7L1384.5 878.0L1386.0 879.6L1387.5 886.9L1389.0 886.2L1390.5 888.3L1392.0 894.1L1393.5 898.2L1395.0 902.6L1396.5 903.9L1398.0 909.8L1399.5 915.5L1401.0 916.8L1402.5 921.3L1404.0 923.8L1405.5 929.3L1407.0 932.8L1408.5 935.4L1410.0 938.2L1411.5 941.9L1413.0 943.2L1414.5 947.2L1416.0 947.8L1417.5 950.9L1419.0 954.9L1420.5 956.2L1422.0 960.5L1423.5 964.1L1425.0 965.5L1426.5 966.4L1428.0 968.5L1429.5 973.3L1431.0 972.5L1432.5 975.6L1434.0 976.9L1435.5 978.7L1437.0 981.2L1438.5 980.2L1440.0 980.2L1441.5 985.0L1443.0 984.5L1444.5 986.2L1446.0 986.2L1447.5 988.2L1449.0 989.8L1450.5 990.8L1452.0 989.6L1453.5 990.5L1455.0 992.5L1456.5 993.3L1458.0 994.8L1459.5 994.3L1461.0 993.0L1462.5 996.8L1464.0 997.3L1465.5 997.1L1467.0 998.4L1468.5 997.4L1470.0 995.7L1471.5 997.5L1473.0 996.1L1474.5 997.8L1476.0 996.3L1477.5 996.4L1479.0 996.0L1480.5 995.6L1482.0 993.5L1483.5 995.3L1485.0 992.2L1486.5 995.5L1488.0 995.9L1489.5 997.0L1491.0 994.5L1492.5 992.8L1494.0 991.3L1495.5 995.6L1497.0 990.9L1498.5 993.6L1500.0 989.0L1501.5 991.2L1503.0 991.6L1504.5 990.5L1506.0 989.4L1507.5 987.8L1509.0 987.1L1510.5 989.0L1512.0 987.7L1513.5 986.3L1515.0 986.2L1516.5 984.1L1518.0 986.0L1519.5 985.7L1521.0 982.5L1522.5 983.0L1524.0 983.5L1525.5 980.5L1527.0 983.0L1528.5 981.5L1530.0 978.2L1531.5 979.0L1533.0 979.0L1534.5 974.3L1536.0 975.6L1537.5 973.3L1539.0 971.7L1540.5 971.4L1542.0 968.4L1543.5 965.7L1545.0 964.2L1546.5 964.5L1548.0 963.8L1549.5 961.5L1551.0 959.8L1552.5 958.5L1554.0 958.7L1555.5 956.0L1557.0 952.3L1558.5 950.5L1560.0 949.9L1561.5 945.1L1563.0 942.7L1564.5 940.4L1566.0 936.1L1567.5 935.7L1569.0 928.7L1570.5 930.3L1572.0 924.5L1573.5 920.0L1575.0 918.5L1576.5 912.4L1578.0 911.7L1579.5 908.1L1581.0 902.3L1582.5 898.3L1584.0 895.8L1585.5 889.5L1587.0 886.2L1588.5 882.5L1590.0 879.7L1591.5 872.4L1593.0 868.0L1594.5 864.2L1596.0 854.1L1597.5 850.2L1599.0 841.3L1600.5 835.3L1602.0 834.7L1603.5 827.1L1605.0 823.2L1606.5 815.2L1608.0 810.2L1609.5 803.1L1611.0 797.5L1612.5 792.8L1614.0 788.0L1615.5 785.2L1617.0 778.7L1618.5 775.4L1620.0 771.1L1621.5 768.5L1623.0 763.9L1624.5 764.9L1626.0 761.2L1627.5 760.9L1629.0 759.7L1630.5 760.6L1632.0 759.8L1633.5 759.4L1635.0 760.2L1636.5 761.4L1638.0 763.6L1639.5 765.2L1641.0 768.9L1642.5 772.7L1644.0 775.4L1645.5 777.2L1647.0 785.9L1648.5 791.5L1650.0 793.7L1651.5 799.5L1653.0 803.8L1654.5 814.3L1656.0 819.1L1657.5 830.4L1659.0 833.5L1660.5 845.7L1662.0 856.4L1663.5 865.2L1665.0 874.6L1666.5 885.0L1668.0 892.5L1669.5 901.1L1671.0 910.2L1672.5 918.6L1674.0 927.8L1675.5 937.6L1677.0 943.7L1678.5 951.5L1680.0 956.7L1681.5 965.3L1683.0 968.6L1684.5 977.2L1686.0 978.3L1687.5 984.6L1689.0 987.9L1690.5 995.1L1692.0 997.3L1693.5 998.3L1695.0 1002.1L1696.5 1006.8L1698.0 1006.6L1699.5 1008.6L1701.0 1007.2L1702.5 1008.4L1704.0 1012.1L1705.5 1015.1L1707.0 1012.3L1708.5 1014.5L1710.0 1013.2L1711.5 1016.8L1713.0 1015.3L1714.5 1015.9L1716.0 1014.5L1717.5 1016.9L1719.0 1018.1L1720.5 1020.1L1722.0 1017.2L1723.5 1020.5L1725.0 1019.2L1726.5 1019.6L1728.0 1019.1L1729.5 1018.4L1731.0 1019.4L1732.5 1023.4L1734.0 1020.0L1735.5 1021.3L1737.0 1023.6L1738.5 1019.7L1740.0 1023.2L1741.5 1022.2L1743.0 1023.3L1744.5 1024.4L1746.0 1023.3L1747.5 1023.5L1749.0 1024.9L1750.5 1025.0L1752.0 1023.4L1753.5 1024.3L1755.0 1023.0L1756.5 1026.4L1758.0 1023.0L1759.5 1024.6L1761.0 1026.4L1762.5 1024.9L1764.0 1023.2L1765.5 1022.4L1767.0 1022.3L1768.5 1024.1L1770.0 1023.1L1771.5 1022.4L1773.0 1025.2L1774.5 1021.1L1776.0 1021.4L1777.5 1021.4L1779.0 1022.1L1780.5 1022.1L1782.0 1021.2L1783.5 1022.4L1785.0 1022.0L1786.5 1020.7L1788.0 1018.2L1789.5 1021.8L1791.0 1019.4L1792.5 1019.6L1794.0 1020.1L1795.5 1018.5L1797.0 1018.8L1798.5 1019.8L1800.0 1019.1L1801.5 1019.8L1803.0 1018.3L1804.5 1019.1L1806.0 1018.0L1807.5 1019.0L1809.0 1019.8L1810.5 1019.1L1812.0 1017.5L1813.5 1019.1L1815.0 1019.6L1816.5 1020.9L1818.0 1019.4L1819.5 1019.0L1821.0 1018.0L1822.5 1022.2L1824.0 1018.4L1825.5 1018.2L1827.0 1019.6L1828.5 1017.4L1830.0 1021.2L1831.5 1020.0L1833.0 1020.3L1834.5 1018.2L1836.0 1018.6L1837.5 1020.2L1839.0 1020.1L1840.5 1021.8L1842.0 1020.4L1843.5 1016.8L1845.0 1019.8L1846.5 1019.6L1848.0 1021.8L1849.5 1020.7L1851.0 1021.7L1852.5 1020.9L1854.0 1022.3L1855.5 1023.6L1857.0 1021.1L1858.5 1019.5L1860.0 1020.9L1861.5 1024.4L1863.0 1022.7L1864.5 1022.0L1866.0 1021.2L1867.5 1023.8L1869.0 1022.8L1870.5 1022.3L1872.0 1021.7L1873.5 1022.2L1875.0 1022.0L1876.5 1023.2L1878.0 1024.1L1879.5 1019.9L1881.0 1020.5L1882.5 1022.3L1884.0 1022.5" stroke="#000080"/>
<path d="M93.0 618.4L94.5 622.2L96.0 621.4L97.5 631.7L99.0 628.3L100.5 633.2L102.0 638.9L103.5 638.7L105.0 642.2L106.5 645.6L108.0 651.5L109.5 657.7L111.0 656.7L112.5 657.7L114.0 663.9L115.5 664.5L117.0 667.6L118.5 671.9L120.0 670.2L121.5 673.7L123.0 673.7L124.5 676.2L126.0 678.1L127.5 676.9L129.0 679.2L130.5 680.6L132.0 680.9L133.5 680.9L135.0 681.4L136.5 684.7L138.0 685.4L139.5 691.1L141.0 683.6L142.5 689.0L144.0 689.8L145.5 692.1L147.0 690.8L148.5 688.6L150.0 690.6L151.5 692.0L153.0 690.8L154.5 693.2L156.0 688.6L157.5 695.8L159.0 695.4L160.5 692.1L162.0 694.0L163.5 693.0L165.0 691.5L166.5 693.3L168.0 695.2L169.5 692.6L171.0 692.8L172.5 693.4L174.0 694.5L175.5 696.2L177.0 692.7L178.5 695.0L180.0 694.5L181.5 690.7L183.0 693.5L184.5 694.2L186.0 694.5L187.5 695.3L189.0 690.9L190.5 694.9L192.0 693.7L193.5 692.2L195.0 695.8L196.5 696.1L198.0 693.4L199.5 696.2L201.0 693.7L202.5 694.5L204.0 692.2L205.5 697.2L207.0 689.9L208.5 693.8L210.0 695.2L211.5 689.9L213.0 693.4L214.5 693.5L216.0 695.1L217.5 695.8L219.0 692.5L220.5 690.5L222.0 695.7L223.5 695.3L225.0 692.0L226.5 693.4L228.0 693.4L229.5 693.6L231.0 692.8L232.5 695.0L234.0 688.9L235.5 694.1L237.0 692.8L238.5 691.6L240.0 694.1L241.5 687.6L243.0 693.9L244.5 692.3L246.0 689.3L247.5 692.2L249.0 690.7L250.5 695.3L252.0 694.2L253.5 691.2L255.0 688.6L256.5 688.5L258.0 688.6L259.5 687.8L261.0 686.8L262.5 687.0L264.0 687.2L265.5 686.3L267.0 685.2L268.5 684.0L270.0 689.2L271.5 681.5L273.0 681.6L274.5 683.9L276.0 682.0L277.5 682.9L279.0 683.1L280.5 684.0L282.0 684.0L283.5 681.7L285.0 686.7L286.5 682.2L288.0 686.0L289.5 685.1L291.0 683.8L292.5 686.7L294.0 685.1L295.5 687.2L297.0 682.2L298.5 686.5L300.0 685.6L301.5 684.7L303.0 681.6L304.5 683.6L306.0 681.0L307.5 679.8L309.0 686.9L310.5 683.6L312.0 684.2L313.5 678.9L315.0 680.1L316.5 679.5L318.0 678.8L319.5 677.1L321.0 676.1L322.5 672.0L324.0 676.5L325.5 675.3L327.0 675.1L328.5 671.0L330.0 673.3L331.5 667.6L333.0 664.6L334.5 667.3L336.0 663.1L337.5 660.1L339.0 661.2L340.5 661.0L342.0 658.9L343.5 658.1L345.0 660.2L346.5 655.9L348.0 653.2L349.5 642.6L351.0 645.0L352.5 644.8L354.0 641.6L355.5 639.7L357.0 641.1L358.5 638.8L360.0 637.3L361.5 639.7L363.0 639.1L364.5 636.2L366.0 633.8L367.5 634.7L369.0 635.8L370.5 635.9L372.0 632.5L373.5 635.1L375.0 636.9L376.5 638.7L378.0 640.6L379.5 641.4L381.0 639.1L382.5 641.2L384.0 642.2L385.5 649.9L387.0 648.8L388.5 651.6L390.0 654.5L391.5 653.4L393.0 653.3L394.5 656.2L396.0 658.2L397.5 662.9L399.0 663.9L400.5 662.4L402.0 668.0L403.5 669.6L405.0 667.2L406.5 670.0L408.0 667.7L409.5 672.8L411.0 672.6L412.5 671.6L414.0 673.8L415.5 676.6L417.0 676.1L418.5 679.1L420.0 681.1L421.5 679.9L423.0 682.0L424.5 686.8L426.0 683.2L427.5 681.5L429.0 683.4L430.5 681.0L432.0 685.8L433.5 684.3L435.0 685.4L436.5 684.8L438.0 683.6L439.5 684.4L441.0 683.5L442.5 682.9L444.0 683.2L445.5 685.3L447.0 683.0L448.5 690.9L450.0 684.0L451.5 687.0L453.0 684.5L454.5 683.1L456.0 686.6L457.5 686.1L459.0 686.2L460.5 687.5L462.0 685.1L463.5 687.1L465.0 687.5L466.5 686.1L468.0 686.4L469.5 688.1L471.0 687.4L472.5 687.8L474.0 683.5L475.5 688.0L477.0 688.8L478.5 688.0L480.0 689.1L481.5 692.2L483.0 688.9L484.5 690.0L486.0 687.1L487.5 687.1L489.0 687.8L490.5 686.8L492.0 688.7L493.5 687.0L495.0 688.4L496.5 686.0L498.0 685.6L499.5 687.5L501.0 686.8L502.5 687.8L504.0 688.0L505.5 688.6L507.0 691.4L508.5 692.2L510.0 691.1L511.5 689.2L513.0 692.8L514.5 686.8L516.0 685.7L517.5 689.8L519.0 689.1L520.5 688.6L522.0 688.7L523.5 685.3L525.0 686.0L526.5 690.3L528.0 689.7L529.5 686.2L531.0 691.4L532.5 686.1L534.0 687.4L535.5 689.4L537.0 687.0L538.5 688.7L540.0 689.7L541.5 689.2L543.0 691.5L544.5 690.9L546.0 687.6L547.5 688.3L549.0 689.8L550.5 689.3L552.0 687.8L553.5 690.1L555.0 690.7L556.5 687.9L558.0 690.5L559.5 685.8L561.0 685.8L562.5 689.7L564.0 687.0L565.5 686.6L567.0 687.8L568.5 686.9L570.0 688.6L571.5 685.1L573.0 687.0L574.5 691.7L576.0 687.2L577.5 682.6L579.0 686.6L580.5 685.7L582.0 686.5L583.5 683.4L585.0 681.0L586.5 684.2L588.0 682.2L589.5 676.9L591.0 681.2L592.5 678.7L594.0 680.7L595.5 677.4L597.0 679.0L598.5 677.3L600.0 677.5L601.5 675.8L603.0 674.5L604.5 674.8L606.0 675.3L607.5 674.1L609.0 675.2L610.5 671.6L612.0 670.8L613.5 672.3L615.0 667.8L616.5 669.2L618.0 667.5L619.5 669.2L621.0 672.8L622.5 670.5L624.0 672.4L625.5 667.4L627.0 666.5L628.5 669.5L630.0 666.4L631.5 673.9L633.0 672.9L634.5 668.9L636.0 671.7L637.5 671.5L639.0 673.6L640.5 673.0L642.0 675.1L643.5 676.4L645.0 673.8L646.5 673.5L648.0 678.3L649.5 678.4L651.0 680.4L652.5 677.5L654.0 678.8L655.5 677.4L657.0 675.9L658.5 675.4L660.0 677.6L661.5 680.4L663.0 677.8L664.5 676.0L666.0 678.0L667.5 677.2L669.0 674.9L670.5 676.8L672.0 677.3L673.5 671.9L675.0 668.7L676.5 670.7L678.0 672.1L679.5 669.3L681.0 668.3L682.5 669.4L684.0 667.2L685.5 663.6L687.0 659.5L688.5 657.9L690.0 655.1L691.5 652.4L693.0 644.6L694.5 644.7L696.0 637.5L697.5 629.4L699.0 625.2L700.5 619.9L702.0 622.5L703.5 623.0L705.0 626.1L706.5 624.2L708.0 629.1L709.5 626.8L711.0 629.9L712.5 628.9L714.0 634.0L715.5 632.8L717.0 635.8L718.5 636.5L720.0 639.2L721.5 644.5L723.0 648.1L724.5 644.9L726.0 644.7L727.5 647.7L729.0 650.5L730.5 648.2L732.0 650.5L733.5 653.3L735.0 653.7L736.5 656.2L738.0 656.3L739.5 652.4L741.0 650.6L742.5 649.8L744.0 644.9L745.5 639.9L747.0 636.4L748.5 630.9L750.0 630.7L751.5 620.3L753.0 609.5L754.5 598.0L756.0 584.9L757.5 577.2L759.0 559.9L760.5 531.0L762.0 513.8L763.5 493.4L765.0 475.7L766.5 453.8L768.0 426.3L769.5 420.7L771.0 448.4L772.5 472.2L774.0 488.3L775.5 503.7L777.0 520.2L778.5 537.2L780.0 557.4L781.5 570.7L783.0 583.4L784.5 592.2L786.0 606.8L787.5 611.8L789.0 628.2L790.5 633.5L792.0 638.5L793.5 642.4L795.0 650.4L796.5 655.0L798.0 655.7L799.5 662.1L801.0 665.2L802.5 667.2L804.0 670.2L805.5 673.7L807.0 670.8L808.5 672.5L810.0 678.5L811.5 679.1L813.0 681.8L814.5 678.4L816.0 681.0L817.5 687.0L819.0 682.6L820.5 686.4L822.0 684.8L823.5 686.1L825.0 684.9L826.5 690.4L828.0 685.1L829.5 686.5L831.0 687.3L832.5 691.5L834.0 690.1L835.5 691.0L837.0 690.0L838.5 690.4L840.0 691.3L841.5 693.8L843.0 691.8L844.5 689.0L846.0 694.4L847.5 692.6L849.0 690.0L850.5 691.7L852.0 690.6L853.5 696.8L855.0 692.6L856.5 689.8L858.0 694.5L859.5 692.8L861.0 697.2L862.5 695.3L864.0 691.7L865.5 694.2L867.0 693.2L868.5 693.9L870.0 694.2L871.5 691.7L873.0 695.9L874.5 694.0L876.0 694.0L877.5 697.2L879.0 699.4L880.5 694.8L882.0 699.3L883.5 692.3L885.0 697.2L886.5 695.2L888.0 696.1L889.5 694.5L891.0 695.2L892.5 695.7L894.0 695.6L895.5 697.0L897.0 700.1L898.5 695.2L900.0 696.0L901.5 693.3L903.0 692.6L904.5 698.5L906.0 694.1L907.5 695.1L909.0 696.3L910.5 697.6L912.0 696.7L913.5 699.1L915.0 696.1L916.5 693.9L918.0 696.7L919.5 696.8L921.0 695.6L922.5 696.3L924.0 696.1L925.5 699.1L927.0 696.2L928.5 695.4L930.0 697.5L931.5 695.1L933.0 697.8L934.5 697.8L936.0 696.5L937.5 696.9L939.0 696.8L940.5 699.3L942.0 697.9L943.5 696.2L945.0 696.2L946.5 697.4L948.0 697.5L949.5 696.7L951.0 697.8L952.5 697.3L954.0 698.6L955.5 698.0L957.0 697.4L958.5 697.6L960.0 696.6L961.5 698.4L963.0 697.7L964.5 696.7L966.0 697.0L967.5 696.2L969.0 698.7L970.5 695.8L972.0 696.6L973.5 696.2L975.0 694.9L976.5 695.8L978.0 695.4L979.5 696.0L981.0 696.0L982.5 696.5L984.0 696.5L985.5 695.3L987.0 695.2L988.5 695.1L990.0 694.9L991.5 694.0L993.0 696.3L994.5 695.6L996.0 695.5L997.5 694.1L999.0 694.2L1000.5 693.5L1002.0 695.6L1003.5 696.4L1005.0 696.3L1006.5 695.6L1008.0 694.6L1009.5 695.7L1011.0 695.7L1012.5 696.4L1014.0 696.5L1015.5 695.4L1017.0 695.7L1018.5 696.4L1020.0 696.2L1021.5 695.5L1023.0 693.5L1024.5 695.0L1026.0 696.5L1027.5 695.8L1029.0 696.6L1030.5 695.3L1032.0 695.8L1033.5 696.5L1035.0 696.4L1036.5 696.1L1038.0 696.8L1039.5 697.0L1041.0 697.1L1042.5 694.0L1044.0 695.2L1045.5 695.3L1047.0 695.3L1048.5 694.0L1050.0 697.0L1051.5 694.7L1053.0 695.8L1054.5 693.5L1056.0 695.1L1057.5 695.4L1059.0 694.7L1060.5 696.4L1062.0 697.8L1063.5 694.8L1065.0 694.8L1066.5 697.4L1068.0 696.2L1069.5 695.3L1071.0 694.4L1072.5 696.4L1074.0 695.8L1075.5 697.2L1077.0 694.8L1078.5 695.5L1080.0 695.3L1081.5 695.4L1083.0 696.7L1084.5 696.5L1086.0 695.0L1087.5 695.5L1089.0 695.4L1090.5 696.5L1092.0 695.4L1093.5 694.5L1095.0 695.3L1096.5 695.6L1098.0 696.5L1099.5 696.9L1101.0 696.9L1102.5 696.0L1104.0 695.1L1105.5 696.2L1107.0 695.4L1108.5 695.0L1110.0 695.9L1111.5 696.0L1113.0 696.5L1114.5 694.7L1116.0 693.9L1117.5 696.1L1119.0 694.6L1120.5 696.6L1122.0 694.5L1123.5 695.0L1125.0 693.8L1126.5 697.7L1128.0 695.2L1129.5 695.5L1131.0 695.1L1132.5 695.4L1134.0 696.4L1135.5 695.7L1137.0 695.6L1138.5 696.8L1140.0 694.3L1141.5 696.8L1143.0 697.2L1144.5 694.2L1146.0 695.9L1147.5 694.3L1149.0 693.5L1150.5 694.8L1152.0 696.2L1153.5 696.4L1155.0 695.3L1156.5 694.8L1158.0 695.2L1159.5 694.9L1161.0 695.0L1162.5 693.5L1164.0 695.4L1165.5 695.5L1167.0 697.8L1168.5 696.3L1170.0 695.5L1171.5 695.7L1173.0 696.0L1174.5 695.0L1176.0 693.6L1177.5 694.9L1179.0 695.4L1180.5 695.8L1182.0 694.9L1183.5 694.7L1185.0 695.4L1186.5 695.7L1188.0 696.2L1189.5 695.4L1191.0 696.1L1192.5 694.7L1194.0 696.5L1195.5 695.6L1197.0 694.3L1198.5 695.4L1200.0 695.8L1201.5 694.6L1203.0 696.4L1204.5 695.3L1206.0 696.1L1207.5 694.7L1209.0 696.0L1210.5 696.4L1212.0 695.2L1213.5 695.5L1215.0 695.1L1216.5 696.0L1218.0 695.7L1219.5 696.2L1221.0 695.6L1222.5 694.4L1224.0 694.4L1225.5 695.3L1227.0 696.2L1228.5 697.9L1230.0 696.6L1231.5 695.1L1233.0 693.7L1234.5 696.2L1236.0 695.7L1237.5 694.5L1239.0 696.6L1240.5 695.7L1242.0 695.3L1243.5 693.8L1245.0 696.7L1246.5 695.8L1248.0 695.5L1249.5 694.8L1251.0 695.4L1252.5 697.0L1254.0 696.3L1255.5 697.7L1257.0 696.8L1258.5 696.1L1260.0 696.6L1261.5 695.9L1263.0 694.3L1264.5 695.1L1266.0 696.1L1267.5 694.8L1269.0 695.2L1270.5 694.5L1272.0 697.4L1273.5 694.4L1275.0 694.7L1276.5 694.9L1278.0 696.7L1279.5 696.9L1281.0 695.2L1282.5 696.3L1284.0 694.9L1285.5 695.8L1287.0 698.0L1288.5 696.7L1290.0 695.7L1291.5 694.5L1293.0 695.5L1294.5 694.5L1296.0 693.6L1297.5 696.4L1299.0 696.4L1300.5 696.0L1302.0 696.8L1303.5 694.1L1305.0 697.2L1306.5 694.7L1308.0 696.2L1309.5 696.2L1311.0 696.9L1312.5 697.8L1314.0 696.1L1315.5 695.4L1317.0 694.7L1318.5 696.0L1320.0 694.9L1321.5 694.4L1323.0 695.6L1324.5 696.4L1326.0 695.5L1327.5 694.7L1329.0 695.9L1330.5 694.5L1332.0 694.2L1333.5 697.2L1335.0 696.0L1336.5 697.7L1338.0 694.3L1339.5 696.8L1341.0 695.6L1342.5 698.0L1344.0 695.5L1345.5 695.3L1347.0 696.2L1348.5 695.9L1350.0 695.3L1351.5 696.7L1353.0 696.4L1354.5 696.6L1356.0 696.1L1357.5 695.0L1359.0 695.0L1360.5 696.3L1362.0 694.8L1363.5 697.4L1365.0 695.8L1366.5 694.9L1368.0 696.8L1369.5 695.7L1371.0 696.9L1372.5 695.9L1374.0 697.5L1375.5 695.3L1377.0 693.5L1378.5 694.2L1380.0 694.1L1381.5 696.3L1383.0 697.5L1384.5 695.5L1386.0 694.4L1387.5 696.4L1389.0 696.2L1390.5 695.3L1392.0 696.1L1393.5 695.7L1395.0 694.6L1396.5 696.4L1398.0 695.2L1399.5 694.8L1401.0 695.5L1402.5 697.3L1404.0 697.7L1405.5 697.1L1407.0 695.2L1408.5 694.7L1410.0 696.0L1411.5 695.5L1413.0 695.8L1414.5 694.6L1416.0 694.8L1417.5 694.6L1419.0 696.5L1420.5 696.7L1422.0 695.0L1423.5 696.3L1425.0 696.3L1426.5 694.9L1428.0 695.7L1429.5 696.5L1431.0 694.7L1432.5 696.9L1434.0 695.5L1435.5 695.7L1437.0 695.4L1438.5 694.2L1440.0 696.0L1441.5 695.7L1443.0 695.2L1444.5 695.4L1446.0 696.1L1447.5 695.5L1449.0 695.1L1450.5 695.7L1452.0 696.4L1453.5 695.7L1455.0 694.8L1456.5 696.5L1458.0 695.3L1459.5 696.2L1461.0 695.5L1462.5 694.7L1464.0 694.4L1465.5 694.7L1467.0 695.4L1468.5 693.4L1470.0 696.0L1471.5 696.7L1473.0 695.4L1474.5 694.5L1476.0 694.0L1477.5 695.8L1479.0 696.0L1480.5 695.7L1482.0 696.3L1483.5 694.9L1485.0 695.4L1486.5 695.9L1488.0 695.4L1489.5 696.1L1491.0 696.1L1492.5 695.3L1494.0 694.6L1495.5 694.9L1497.0 696.7L1498.5 694.4L1500.0 695.7L1501.5 694.6L1503.0 697.8L1504.5 695.0L1506.0 696.2L1507.5 694.6L1509.0 697.8L1510.5 694.3L1512.0 695.9L1513.5 694.3L1515.0 696.4L1516.5 694.3L1518.0 695.1L1519.5 694.0L1521.0 695.2L1522.5 695.6L1524.0 697.3L1525.5 693.4L1527.0 696.1L1528.5 695.6L1530.0 695.0L1531.5 695.4L1533.0 696.0L1534.5 695.5L1536.0 695.5L1537.5 694.8L1539.0 695.2L1540.5 696.0L1542.0 694.6L1543.5 695.0L1545.0 695.6L1546.5 695.9L1548.0 695.9L1549.5 695.3L1551.0 693.5L1552.5 696.3L1554.0 696.5L1555.5 696.7L1557.0 695.9L1558.5 696.4L1560.0 695.2L1561.5 694.4L1563.0 695.4L1564.5 695.3L1566.0 696.5L1567.5 696.3L1569.0 695.0L1570.5 695.1L1572.0 695.5L1573.5 695.6L1575.0 696.9L1576.5 695.0L1578.0 696.8L1579.5 694.1L1581.0 694.8L1582.5 697.2L1584.0 695.9L1585.5 695.6L1587.0 696.1L1588.5 695.3L1590.0 695.5L1591.5 695.7L1593.0 695.7L1594.5 695.8L1596.0 694.9L1597.5 695.8L1599.0 694.8L1600.5 696.1L1602.0 695.3L1603.5 695.7L1605.0 695.8L1606.5 694.7L1608.0 694.9L1609.5 695.3L1611.0 695.9L1612.5 696.4L1614.0 695.4L1615.5 694.8L1617.0 695.7L1618.5 695.4L1620.0 696.2L1621.5 696.7L1623.0 697.4L1624.5 693.8L1626.0 695.0L1627.5 695.4L1629.0 696.2L1630.5 696.1L1632.0 695.5L1633.5 696.2L1635.0 694.9L1636.5 695.1L1638.0 695.7L1639.5 694.4L1641.0 697.0L1642.5 694.6L1644.0 694.3L1645.5 695.8L1647.0 693.5L1648.5 695.0L1650.0 695.3L1651.5 696.7L1653.0 697.6L1654.5 695.6L1656.0 694.1L1657.5 695.7L1659.0 696.1L1660.5 694.5L1662.0 695.8L1663.5 697.0L1665.0 695.9L1666.5 694.6L1668.0 694.9L1669.5 693.8L1671.0 695.0L1672.5 694.8L1674.0 696.8L1675.5 693.9L1677.0 693.8L1678.5 695.6L1680.0 696.0L1681.5 694.9L1683.0 695.6L1684.5 696.1L1686.0 696.1L1687.5 695.8L1689.0 695.9L1690.5 693.9L1692.0 696.2L1693.5 695.5L1695.0 694.6L1696.5 695.0L1698.0 695.1L1699.5 694.8L1701.0 695.2L1702.5 695.0L1704.0 693.9L1705.5 697.5L1707.0 695.8L1708.5 697.6L1710.0 695.1L1711.5 697.0L1713.0 695.3L1714.5 697.0L1716.0 696.3L1717.5 696.2L1719.0 695.2L1720.5 695.6L1722.0 696.7L1723.5 693.4L1725.0 694.7L1726.5 694.2L1728.0 694.5L1729.5 696.0L1731.0 696.3L1732.5 695.2L1734.0 696.6L1735.5 694.7L1737.0 694.8L1738.5 695.6L1740.0 695.8L1741.5 695.3L1743.0 694.4L1744.5 696.0L1746.0 697.1L1747.5 695.1L1749.0 695.5L1750.5 694.3L1752.0 695.5L1753.5 694.5L1755.0 695.6L1756.5 697.0L1758.0 696.0L1759.5 694.7L1761.0 696.3L1762.5 693.8L1764.0 696.7L1765.5 695.8L1767.0 694.4L1768.5 695.2L1770.0 694.6L1771.5 697.5L1773.0 696.0L1774.5 694.5L1776.0 694.8L1777.5 695.6L1779.0 694.9L1780.5 695.7L1782.0 695.9L1783.5 694.0L1785.0 696.1L1786.5 697.2L1788.0 695.8L1789.5 696.1L1791.0 695.0L1792.5 695.0L1794.0 695.8L1795.5 694.6L1797.0 693.9L1798.5 696.3L1800.0 694.9L1801.5 695.7L1803.0 695.6L1804.5 695.9L1806.0 696.1L1807.5 696.0L1809.0 695.2L1810.5 696.3L1812.0 695.2L1813.5 695.9L1815.0 694.9L1816.5 695.6L1818.0 694.7L1819.5 696.9L1821.0 695.9L1822.5 694.8L1824.0 693.7L1825.5 694.8L1827.0 696.8L1828.5 694.9L1830.0 696.5L1831.5 695.3L1833.0 695.2L1834.5 694.5L1836.0 695.8L1837.5 696.6L1839.0 696.3L1840.5 696.1L1842.0 694.5L1843.5 695.6L1845.0 694.4L1846.5 694.7L1848.0 695.9L1849.5 694.5L1851.0 696.0L1852.5 695.2L1854.0 697.0L1855.5 695.4L1857.0 696.0L1858.5 696.5L1860.0 696.1L1861.5 696.2L1863.0 693.8L1864.5 696.4L1866.0 693.9L1867.5 694.8L1869.0 693.4L1870.5 695.2L1872.0 694.8L1873.5 695.3L1875.0 694.5L1876.5 695.3L1878.0 694.8L1879.5 695.3L1881.0 696.3L1882.5 693.4L1884.0 695.5" stroke="#000000"/>
<path d="M93.0 282.2L94.5 279.1L96.0 282.1L97.5 283.4L99.0 291.2L100.5 286.0L102.0 299.0L103.5 295.2L105.0 300.8L106.5 302.0L108.0 309.1L109.5 302.3L111.0 309.3L112.5 311.5L114.0 316.9L115.5 312.6L117.0 316.6L118.5 316.2L120.0 320.1L121.5 323.0L123.0 320.1L124.5 327.5L126.0 328.3L127.5 328.8L129.0 331.3L130.5 328.7L132.0 331.7L133.5 331.1L135.0 334.3L136.5 337.9L138.0 336.5L139.5 339.5L141.0 341.0L142.5 342.8L144.0 343.8L145.5 346.0L147.0 343.6L148.5 347.6L150.0 351.8L151.5 349.7L153.0 347.6L154.5 346.1L156.0 346.8L157.5 353.4L159.0 349.4L160.5 347.9L162.0 350.4L163.5 355.7L165.0 350.9L166.5 352.6L168.0 352.2L169.5 350.8L171.0 349.2L172.5 351.6L174.0 351.2L175.5 352.5L177.0 352.4L178.5 351.9L180.0 349.5L181.5 350.3L183.0 345.5L184.5 350.5L186.0 348.3L187.5 346.0L189.0 347.8L190.5 346.2L192.0 349.1L193.5 349.9L195.0 351.4L196.5 341.9L198.0 341.5L199.5 343.8L201.0 346.4L202.5 349.8L204.0 349.8L205.5 344.4L207.0 347.9L208.5 349.8L210.0 347.3L211.5 347.6L213.0 344.5L214.5 344.9L216.0 346.2L217.5 347.1L219.0 346.8L220.5 346.9L222.0 345.2L223.5 348.2L225.0 347.8L226.5 351.6L228.0 352.9L229.5 351.4L231.0 351.0L232.5 351.5L234.0 355.4L235.5 355.0L237.0 353.4L238.5 353.9L240.0 351.7L241.5 354.6L243.0 351.2L244.5 355.0L246.0 352.4L247.5 352.4L249.0 347.5L250.5 350.2L252.0 350.9L253.5 345.8L255.0 346.8L256.5 346.8L258.0 342.4L259.5 346.1L261.0 345.5L262.5 338.4L264.0 338.9L265.5 333.2L267.0 337.4L268.5 334.2L270.0 342.3L271.5 341.4L273.0 341.2L274.5 340.2L276.0 346.5L277.5 349.3L279.0 340.3L280.5 349.4L282.0 351.4L283.5 348.5L285.0 344.6L286.5 350.0L288.0 347.4L289.5 346.4L291.0 344.9L292.5 349.6L294.0 350.4L295.5 346.8L297.0 349.9L298.5 345.7L300.0 350.8L301.5 348.6L303.0 347.7L304.5 347.6L306.0 349.8L307.5 349.2L309.0 348.3L310.5 347.0L312.0 346.6L313.5 347.4L315.0 345.6L316.5 346.0L318.0 342.7L319.5 337.0L321.0 344.7L322.5 346.9L324.0 341.6L325.5 339.6L327.0 338.9L328.5 338.4L330.0 338.2L331.5 334.6L333.0 335.7L334.5 333.8L336.0 337.9L337.5 338.0L339.0 341.5L340.5 340.7L342.0 343.3L343.5 340.9L345.0 345.7L346.5 334.7L348.0 337.6L349.5 341.2L351.0 343.9L352.5 336.6L354.0 336.5L355.5 334.9L357.0 338.0L358.5 332.9L360.0 334.5L361.5 331.0L363.0 327.6L364.5 330.7L366.0 330.1L367.5 331.1L369.0 326.4L370.5 324.0L372.0 326.1L373.5 324.2L375.0 323.2L376.5 316.3L378.0 315.4L379.5 313.0L381.0 316.6L382.5 314.1L384.0 312.6L385.5 306.3L387.0 311.7L388.5 311.2L390.0 312.4L391.5 313.2L393.0 309.6L394.5 313.0L396.0 309.6L397.5 316.3L399.0 308.0L400.5 307.2L402.0 307.7L403.5 309.9L405.0 309.6L406.5 316.7L408.0 309.9L409.5 306.3L411.0 311.8L412.5 306.5L414.0 303.9L415.5 308.5L417.0 306.9L418.5 303.4L420.0 307.4L421.5 303.3L423.0 306.5L424.5 302.8L426.0 304.8L427.5 300.3L429.0 296.1L430.5 303.8L432.0 294.7L433.5 293.6L435.0 290.3L436.5 289.6L438.0 289.3L439.5 289.0L441.0 290.0L442.5 292.8L444.0 287.6L445.5 284.5L447.0 284.5L448.5 284.4L450.0 279.8L451.5 284.3L453.0 278.9L454.5 277.4L456.0 277.2L457.5 273.0L459.0 273.9L460.5 277.4L462.0 276.8L463.5 273.5L465.0 278.9L466.5 270.3L468.0 272.3L469.5 272.1L471.0 265.3L472.5 273.8L474.0 269.3L475.5 265.3L477.0 273.0L478.5 268.8L480.0 268.0L481.5 264.9L483.0 266.1L484.5 260.7L486.0 265.5L487.5 261.3L489.0 261.4L490.5 263.0L492.0 259.4L493.5 258.2L495.0 257.2L496.5 253.5L498.0 256.6L499.5 257.4L501.0 254.3L502.5 253.6L504.0 249.7L505.5 250.5L507.0 249.8L508.5 257.5L510.0 254.3L511.5 260.4L513.0 256.4L514.5 259.0L516.0 263.3L517.5 269.0L519.0 270.3L520.5 273.5L522.0 274.5L523.5 276.5L525.0 274.6L526.5 282.2L528.0 286.0L529.5 290.9L531.0 295.4L532.5 294.9L534.0 298.9L535.5 300.9L537.0 305.3L538.5 309.5L540.0 308.8L541.5 316.5L543.0 323.4L544.5 315.7L546.0 318.8L547.5 320.2L549.0 323.3L550.5 329.6L552.0 326.5L553.5 325.8L555.0 330.4L556.5 328.3L558.0 333.9L559.5 332.9L561.0 337.1L562.5 333.3L564.0 342.2L565.5 340.1L567.0 341.2L568.5 340.2L570.0 338.9L571.5 339.1L573.0 341.5L574.5 340.3L576.0 343.4L577.5 340.9L579.0 344.9L580.5 346.1L582.0 342.1L583.5 347.4L585.0 344.0L586.5 347.9L588.0 345.9L589.5 347.4L591.0 341.6L592.5 343.6L594.0 347.4L595.5 341.7L597.0 337.7L598.5 337.6L600.0 337.0L601.5 338.0L603.0 343.2L604.5 348.3L606.0 344.6L607.5 347.3L609.0 347.0L610.5 348.0L612.0 348.3L613.5 348.4L615.0 350.2L616.5 346.1L618.0 352.0L619.5 351.9L621.0 349.1L622.5 351.9L624.0 348.1L625.5 348.7L627.0 350.7L628.5 349.9L630.0 349.4L631.5 349.0L633.0 349.4L634.5 353.4L636.0 346.1L637.5 352.2L639.0 350.6L640.5 353.1L642.0 352.6L643.5 345.5L645.0 352.8L646.5 352.1L648.0 351.3L649.5 350.0L651.0 353.5L652.5 350.2L654.0 356.0L655.5 352.7L657.0 356.8L658.5 348.8L660.0 345.8L661.5 351.8L663.0 351.7L664.5 349.1L666.0 344.5L667.5 346.9L669.0 349.3L670.5 347.0L672.0 347.2L673.5 347.0L675.0 345.1L676.5 346.1L678.0 343.8L679.5 352.1L681.0 346.3L682.5 348.2L684.0 342.8L685.5 346.1L687.0 337.6L688.5 343.4L690.0 339.4L691.5 343.5L693.0 333.6L694.5 336.4L696.0 336.5L697.5 338.0L699.0 332.9L700.5 333.5L702.0 326.9L703.5 329.6L705.0 332.2L706.5 333.1L708.0 328.8L709.5 334.1L711.0 332.6L712.5 326.1L714.0 316.8L715.5 314.1L717.0 313.0L718.5 317.2L720.0 314.3L721.5 307.3L723.0 311.4L724.5 315.4L726.0 309.5L727.5 307.3L729.0 312.3L730.5 304.9L732.0 301.3L733.5 301.2L735.0 298.0L736.5 294.6L738.0 296.1L739.5 292.9L741.0 289.2L742.5 283.7L744.0 284.0L745.5 277.9L747.0 276.2L748.5 273.9L750.0 269.6L751.5 268.4L753.0 261.2L754.5 251.9L756.0 249.5L757.5 251.0L759.0 239.1L760.5 233.5L762.0 222.8L763.5 220.1L765.0 209.0L766.5 206.3L768.0 192.6L769.5 187.9L771.0 177.8L772.5 164.1L774.0 156.9L775.5 139.7L777.0 127.9L778.5 119.9L780.0 105.0L781.5 95.1L783.0 85.8L784.5 79.9L786.0 83.1L787.5 83.9L789.0 84.2L790.5 91.4L792.0 102.8L793.5 116.6L795.0 126.3L796.5 134.7L798.0 148.0L799.5 154.7L801.0 163.5L802.5 177.9L804.0 180.9L805.5 189.8L807.0 194.9L808.5 202.4L810.0 213.2L811.5 216.2L813.0 225.3L814.5 227.1L816.0 235.5L817.5 246.8L819.0 256.3L820.5 259.9L822.0 266.4L823.5 272.8L825.0 276.0L826.5 275.9L828.0 282.1L829.5 287.5L831.0 288.3L832.5 294.0L834.0 292.2L835.5 297.7L837.0 304.7L838.5 301.1L840.0 307.5L841.5 313.8L843.0 312.2L844.5 319.3L846.0 319.6L847.5 323.4L849.0 326.0L850.5 329.0L852.0 328.5L853.5 331.7L855.0 331.4L856.5 335.9L858.0 339.8L859.5 336.4L861.0 336.9L862.5 334.0L864.0 339.4L865.5 336.2L867.0 336.6L868.5 340.8L870.0 340.3L871.5 343.3L873.0 344.8L874.5 340.2L876.0 342.5L877.5 347.5L879.0 346.5L880.5 347.0L882.0 349.6L883.5 345.8L885.0 350.2L886.5 353.3L888.0 354.0L889.5 347.3L891.0 348.3L892.5 349.6L894.0 347.5L895.5 346.9L897.0 349.3L898.5 347.1L900.0 344.0L901.5 350.1L903.0 348.6L904.5 348.4L906.0 346.8L907.5 353.8L909.0 345.0L910.5 346.0L912.0 349.3L913.5 352.8L915.0 352.7L916.5 345.9L918.0 348.3L919.5 344.8L921.0 351.4L922.5 344.9L924.0 348.4L925.5 351.4L927.0 348.2L928.5 352.6L930.0 346.5L931.5 349.7L933.0 351.0L934.5 348.4L936.0 352.4L937.5 350.2L939.0 344.6L940.5 354.6L942.0 350.7L943.5 349.4L945.0 345.5L946.5 349.4L948.0 348.1L949.5 351.1L951.0 350.4L952.5 354.3L954.0 350.0L955.5 351.0L957.0 350.7L958.5 349.4L960.0 349.4L961.5 352.8L963.0 351.8L964.5 347.9L966.0 346.3L967.5 348.7L969.0 351.6L970.5 348.2L972.0 352.5L973.5 345.7L975.0 347.9L976.5 342.1L978.0 346.5L979.5 347.4L981.0 349.8L982.5 353.1L984.0 349.0L985.5 352.9L987.0 351.1L988.5 352.2L990.0 348.6L991.5 353.7L993.0 347.5L994.5 351.8L996.0 348.2L997.5 349.6L999.0 347.4L1000.5 349.7L1002.0 351.7L1003.5 350.3L1005.0 346.6L1006.5 353.7L1008.0 350.4L1009.5 351.9L1011.0 351.0L1012.5 347.1L1014.0 344.1L1015.5 347.1L1017.0 352.9L1018.5 347.3L1020.0 352.5L1021.5 349.1L1023.0 352.0L1024.5 346.5L1026.0 354.6L1027.5 351.7L1029.0 354.5L1030.5 352.9L1032.0 354.8L1033.5 352.8L1035.0 355.3L1036.5 349.7L1038.0 350.7L1039.5 355.1L1041.0 352.8L1042.5 352.1L1044.0 351.9L1045.5 353.4L1047.0 350.2L1048.5 352.8L1050.0 348.8L1051.5 350.1L1053.0 353.6L1054.5 353.7L1056.0 348.0L1057.5 352.9L1059.0 348.0L1060.5 352.5L1062.0 345.5L1063.5 347.5L1065.0 349.0L1066.5 349.8L1068.0 353.8L1069.5 352.4L1071.0 354.1L1072.5 353.1L1074.0 349.3L1075.5 348.9L1077.0 352.0L1078.5 349.0L1080.0 348.1L1081.5 344.7L1083.0 347.5L1084.5 341.7L1086.0 345.8L1087.5 344.1L1089.0 348.1L1090.5 344.6L1092.0 344.6L1093.5 348.6L1095.0 342.5L1096.5 346.4L1098.0 340.9L1099.5 346.4L1101.0 347.6L1102.5 349.1L1104.0 344.8L1105.5 348.3L1107.0 348.6L1108.5 348.1L1110.0 348.8L1111.5 350.0L1113.0 349.9L1114.5 346.3L1116.0 345.9L1117.5 354.8L1119.0 354.1L1120.5 345.6L1122.0 350.4L1123.5 351.0L1125.0 351.4L1126.5 349.9L1128.0 347.2L1129.5 349.2L1131.0 348.4L1132.5 350.1L1134.0 349.2L1135.5 349.6L1137.0 352.5L1138.5 352.8L1140.0 346.2L1141.5 347.7L1143.0 346.6L1144.5 351.5L1146.0 347.8L1147.5 351.4L1149.0 346.1L1150.5 347.1L1152.0 343.2L1153.5 349.7L1155.0 345.4L1156.5 342.5L1158.0 345.0L1159.5 340.9L1161.0 346.6L1162.5 347.1L1164.0 347.6L1165.5 350.9L1167.0 346.3L1168.5 349.3L1170.0 348.1L1171.5 346.8L1173.0 342.0L1174.5 349.8L1176.0 345.6L1177.5 346.5L1179.0 342.7L1180.5 346.3L1182.0 345.4L1183.5 344.7L1185.0 343.8L1186.5 346.5L1188.0 346.0L1189.5 345.2L1191.0 348.8L1192.5 341.3L1194.0 341.7L1195.5 339.8L1197.0 343.4L1198.5 340.2L1200.0 336.1L1201.5 338.5L1203.0 341.6L1204.5 343.9L1206.0 337.2L1207.5 339.7L1209.0 340.9L1210.5 339.4L1212.0 342.6L1213.5 341.3L1215.0 341.6L1216.5 338.1L1218.0 343.2L1219.5 338.5L1221.0 341.1L1222.5 335.9L1224.0 337.8L1225.5 333.7L1227.0 332.7L1228.5 333.7L1230.0 335.8L1231.5 335.7L1233.0 340.6L1234.5 334.0L1236.0 334.5L1237.5 340.9L1239.0 336.6L1240.5 328.6L1242.0 333.3L1243.5 331.1L1245.0 324.0L1246.5 328.0L1248.0 328.4L1249.5 329.7L1251.0 329.7L1252.5 326.8L1254.0 328.7L1255.5 325.0L1257.0 322.5L1258.5 321.4L1260.0 324.3L1261.5 316.9L1263.0 322.9L1264.5 317.3L1266.0 318.4L1267.5 319.7L1269.0 320.7L1270.5 310.2L1272.0 310.9L1273.5 310.9L1275.0 308.3L1276.5 311.7L1278.0 303.8L1279.5 309.8L1281.0 309.7L1282.5 308.4L1284.0 310.9L1285.5 304.5L1287.0 309.9L1288.5 303.7L1290.0 305.9L1291.5 301.7L1293.0 304.0L1294.5 303.3L1296.0 296.9L1297.5 299.7L1299.0 299.3L1300.5 298.3L1302.0 296.3L1303.5 302.5L1305.0 296.9L1306.5 298.8L1308.0 291.6L1309.5 289.1L1311.0 291.7L1312.5 289.4L1314.0 296.1L1315.5 290.6L1317.0 292.4L1318.5 288.4L1320.0 287.6L1321.5 287.9L1323.0 288.9L1324.5 290.2L1326.0 287.7L1327.5 286.2L1329.0 285.2L1330.5 287.8L1332.0 289.5L1333.5 289.2L1335.0 287.5L1336.5 285.2L1338.0 286.4L1339.5 286.7L1341.0 284.4L1342.5 285.4L1344.0 286.0L1345.5 290.1L1347.0 287.9L1348.5 290.8L1350.0 292.8L1351.5 295.3L1353.0 298.9L1354.5 298.4L1356.0 299.8L1357.5 295.1L1359.0 300.6L1360.5 305.0L1362.0 297.3L1363.5 297.0L1365.0 299.3L1366.5 302.7L1368.0 302.9L1369.5 301.8L1371.0 304.4L1372.5 308.7L1374.0 309.2L1375.5 314.0L1377.0 311.6L1378.5 310.7L1380.0 312.1L1381.5 310.3L1383.0 309.5L1384.5 313.9L1386.0 317.8L1387.5 315.9L1389.0 321.1L1390.5 321.9L1392.0 323.9L1393.5 322.9L1395.0 325.2L1396.5 324.6L1398.0 327.5L1399.5 321.6L1401.0 333.3L1402.5 335.7L1404.0 335.1L1405.5 336.7L1407.0 336.6L1408.5 333.1L1410.0 335.4L1411.5 337.0L1413.0 335.8L1414.5 338.0L1416.0 336.2L1417.5 337.0L1419.0 335.5L1420.5 337.3L1422.0 337.8L1423.5 344.2L1425.0 341.5L1426.5 339.5L1428.0 344.4L1429.5 344.1L1431.0 340.1L1432.5 347.6L1434.0 342.5L1435.5 348.3L1437.0 344.4L1438.5 343.3L1440.0 348.6L1441.5 343.6L1443.0 346.6L1444.5 348.6L1446.0 350.0L1447.5 350.6L1449.0 348.9L1450.5 347.1L1452.0 354.6L1453.5 348.3L1455.0 354.9L1456.5 349.3L1458.0 353.7L1459.5 353.8L1461.0 348.5L1462.5 352.2L1464.0 353.2L1465.5 353.1L1467.0 350.7L1468.5 352.0L1470.0 350.2L1471.5 348.2L1473.0 353.8L1474.5 349.8L1476.0 354.8L1477.5 352.7L1479.0 348.7L1480.5 350.5L1482.0 350.0L1483.5 348.4L1485.0 351.8L1486.5 349.1L1488.0 354.5L1489.5 352.4L1491.0 347.7L1492.5 349.0L1494.0 347.4L1495.5 342.9L1497.0 348.4L1498.5 347.5L1500.0 347.6L1501.5 344.2L1503.0 348.3L1504.5 345.2L1506.0 348.4L1507.5 350.8L1509.0 346.4L1510.5 341.6L1512.0 343.7L1513.5 345.4L1515.0 346.2L1516.5 339.3L1518.0 341.0L1519.5 341.4L1521.0 341.1L1522.5 341.2L1524.0 335.3L1525.5 335.5L1527.0 338.1L1528.5 335.4L1530.0 334.4L1531.5 335.4L1533.0 332.8L1534.5 333.9L1536.0 331.7L1537.5 329.0L1539.0 329.1L1540.5 332.7L1542.0 332.0L1543.5 330.8L1545.0 332.8L1546.5 329.1L1548.0 331.1L1549.5 330.2L1551.0 327.5L1552.5 323.4L1554.0 332.1L1555.5 327.9L1557.0 320.1L1558.5 323.5L1560.0 324.4L1561.5 321.6L1563.0 322.8L1564.5 317.9L1566.0 320.0L1567.5 318.5L1569.0 317.2L1570.5 316.2L1572.0 316.4L1573.5 317.4L1575.0 313.0L1576.5 312.7L1578.0 313.6L1579.5 312.3L1581.0 313.0L1582.5 313.3L1584.0 314.2L1585.5 309.9L1587.0 302.9L1588.5 306.5L1590.0 305.6L1591.5 302.2L1593.0 300.3L1594.5 293.6L1596.0 299.7L1597.5 296.5L1599.0 292.4L1600.5 293.1L1602.0 291.3L1603.5 292.8L1605.0 290.5L1606.5 291.0L1608.0 287.5L1609.5 281.0L1611.0 279.6L1612.5 284.9L1614.0 284.8L1615.5 278.8L1617.0 279.1L1618.5 271.6L1620.0 268.3L1621.5 268.2L1623.0 268.3L1624.5 266.6L1626.0 266.5L1627.5 265.0L1629.0 268.2L1630.5 272.3L1632.0 270.9L1633.5 278.2L1635.0 273.4L1636.5 275.5L1638.0 278.8L1639.5 277.8L1641.0 282.7L1642.5 278.9L1644.0 285.1L1645.5 283.4L1647.0 289.9L1648.5 284.2L1650.0 286.1L1651.5 288.5L1653.0 284.5L1654.5 293.7L1656.0 295.4L1657.5 296.5L1659.0 294.5L1660.5 297.5L1662.0 306.0L1663.5 310.6L1665.0 314.1L1666.5 310.2L1668.0 312.3L1669.5 316.8L1671.0 314.9L1672.5 321.5L1674.0 328.2L1675.5 333.2L1677.0 331.9L1678.5 337.2L1680.0 335.7L1681.5 336.9L1683.0 337.7L1684.5 340.0L1686.0 340.0L1687.5 341.4L1689.0 341.2L1690.5 344.7L1692.0 345.2L1693.5 342.4L1695.0 346.1L1696.5 345.0L1698.0 342.4L1699.5 349.5L1701.0 352.8L1702.5 354.3L1704.0 352.4L1705.5 345.9L1707.0 351.1L1708.5 350.7L1710.0 342.5L1711.5 350.1L1713.0 350.5L1714.5 350.3L1716.0 351.6L1717.5 352.0L1719.0 356.7L1720.5 351.2L1722.0 351.5L1723.5 351.8L1725.0 352.3L1726.5 346.8L1728.0 354.8L1729.5 351.5L1731.0 352.2L1732.5 351.0L1734.0 349.8L1735.5 349.1L1737.0 350.4L1738.5 350.8L1740.0 353.7L1741.5 351.8L1743.0 350.8L1744.5 356.0L1746.0 346.9L1747.5 346.1L1749.0 349.9L1750.5 347.8L1752.0 343.1L1753.5 346.3L1755.0 344.6L1756.5 348.8L1758.0 343.6L1759.5 348.2L1761.0 347.4L1762.5 346.5L1764.0 347.8L1765.5 349.6L1767.0 343.5L1768.5 350.9L1770.0 349.8L1771.5 355.8L1773.0 349.1L1774.5 353.6L1776.0 344.7L1777.5 352.3L1779.0 350.6L1780.5 349.0L1782.0 349.1L1783.5 348.5L1785.0 350.0L1786.5 348.3L1788.0 343.6L1789.5 347.4L1791.0 353.2L1792.5 347.2L1794.0 347.5L1795.5 345.2L1797.0 346.5L1798.5 346.1L1800.0 344.6L1801.5 347.6L1803.0 343.8L1804.5 346.8L1806.0 349.4L1807.5 348.4L1809.0 346.8L1810.5 352.4L1812.0 348.6L1813.5 349.8L1815.0 348.6L1816.5 350.3L1818.0 349.3L1819.5 349.0L1821.0 351.8L1822.5 354.4L1824.0 348.7L1825.5 350.8L1827.0 348.3L1828.5 349.3L1830.0 351.8L1831.5 349.0L1833.0 346.9L1834.5 347.4L1836.0 347.9L1837.5 349.6L1839.0 352.1L1840.5 346.6L1842.0 347.6L1843.5 348.1L1845.0 346.2L1846.5 354.4L1848.0 351.1L1849.5 356.1L1851.0 347.3L1852.5 354.2L1854.0 348.9L1855.5 349.5L1857.0 347.8L1858.5 347.8L1860.0 346.7L1861.5 350.6L1863.0 346.6L1864.5 349.4L1866.0 350.0L1867.5 351.7L1869.0 350.3L1870.5 350.8L1872.0 351.3L1873.5 350.0L1875.0 350.9L1876.5 347.5L1878.0 348.0L1879.5 354.9L1881.0 350.0L1882.5 348.2L1884.0 353.6" stroke="#ff00ff"/>
</g>
</svg>
<g stroke="#000" stroke-width="3.8" fill="none" stroke-linecap="round" stroke-dasharray="11 7.75 2.1 8.05" shape-rendering="crispEdges">
<path d="M1336 261.05L1338 1322"/>
<path d="M1629 251.05L1631 1312"/>
</g>
<g font-size="63.5" fill="#000">
<text x="178.0 206.9 235.8" y="1507.4">400</text>
<text x="412.0 442.0 472.0" y="1507.4">600</text>
<text x="647.8 677.8 707.9" y="1507.4">800</text>
<text x="867.8 897.7 927.7 957.6" y="1507.4">1000</text>
<text x="1103.8 1133.8 1163.8 1193.8" y="1507.4">1200</text>
<text x="1339.5 1369.5 1399.5 1429.5" y="1507.4">1400</text>
<text x="1575.8 1605.9 1636.0 1666.1" y="1507.4">1600</text>
<text x="1810.9 1840.9 1871.0 1901.0" y="1507.4">1800</text>
</g>
<text fill="#000" transform="scale(0.920 1)"><tspan font-size="63.0" x="825.7 888.9 921.9 952.7 981.5 1016.8 1050.4 1102.9 1138.5 1167.9 1181.9 1211.4 1231.9 1259.5" y="1591.8">Wavenumber (cm</tspan><tspan font-size="48.0" x="1307.5" y="1556.4">−</tspan><tspan font-size="54.0" x="1333.2" y="1550.7">1</tspan><tspan font-size="63.0" x="1363.4" y="1591.8">)</tspan></text>
<text fill="#000" transform="translate(53.9 947.4) rotate(-90) scale(0.920 1)"><tspan font-size="63.0" x="-0.6 25.5 62.5 85.8 114.4 150.2 179.4 197.9 219.6 235.4 270.7 292.5 324.6 343.9 379.0 396.5" y="0.0">Intensity (a.u.)</tspan></text>
<text fill="#ff00ff" transform="scale(0.950 1)"><tspan font-size="63.0" x="889.0 933.8" y="238.8">Nb</tspan><tspan font-size="42.0" x="966.6" y="238.8">6</tspan><tspan font-size="63.0" x="987.4 1004.8 1042.8 1079.9 1111.1 1131.1 1175.3 1224.0 1271.1 1292.3 1321.8 1338.0 1370.8" y="238.8">/PPy-RGO-0.25</tspan></text>
<text fill="#000" transform="scale(0.930 1)"><tspan font-size="63.0" x="1067.8 1113.6" y="655.9">Nb</tspan><tspan font-size="42.0" x="1148.2" y="655.9">6</tspan></text>
<text fill="#000080" transform="scale(0.960 1)"><tspan font-size="63.0" x="982.7 1026.4 1074.5" y="980.0">RGO</tspan></text>
<text fill="#9900ff" transform="scale(0.975 1)"><tspan font-size="63.0" x="998.8 1045.2" y="1291.0">GO</tspan></text>
<text fill="#000" transform="scale(0.970 1)"><tspan font-size="63.0" x="1317.4" y="1096.8">D</tspan></text>
<text fill="#000"><tspan font-size="65.0" x="1569.9" y="1084.4">G</tspan></text>
</svg>
</body>
</html>
